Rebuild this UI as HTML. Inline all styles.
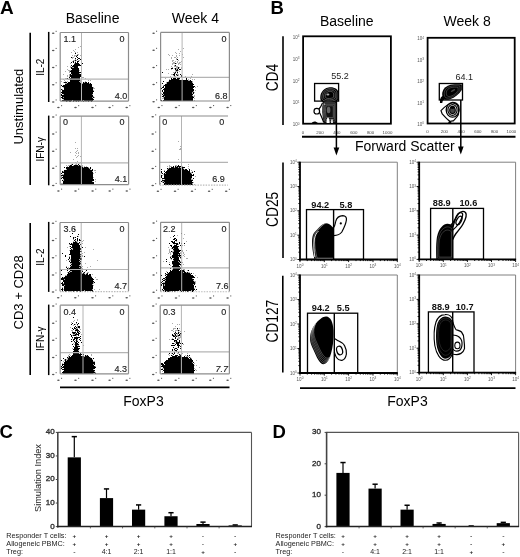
<!DOCTYPE html>
<html><head><meta charset="utf-8"><style>
html,body{margin:0;padding:0;background:#fff;width:520px;height:557px;overflow:hidden}
svg{display:block;will-change:transform}
text{font-family:"Liberation Sans",sans-serif}
</style></head><body>
<svg width="520" height="557" viewBox="0 0 520 557">
<rect width="520" height="557" fill="#fff"/>
<g font-family="Liberation Sans, sans-serif">
<text x="0" y="13.8" font-size="19" text-anchor="start" fill="#000" font-weight="bold" >A</text>
<text x="92.6" y="22.5" font-size="14" text-anchor="middle" fill="#000" >Baseline</text>
<text x="195.4" y="23.2" font-size="14" text-anchor="middle" fill="#000" >Week 4</text>
<line x1="30.2" y1="32.7" x2="30.2" y2="185" stroke="#000" stroke-width="1.6"/>
<line x1="30.2" y1="223" x2="30.2" y2="374.9" stroke="#000" stroke-width="1.6"/>
<text transform="translate(23.1,106.6) rotate(-90)" font-size="13" text-anchor="middle" fill="#000">Unstimulated</text>
<text transform="translate(23.3,292.4) rotate(-90)" font-size="13" text-anchor="middle" fill="#000">CD3 + CD28</text>
<line x1="48.7" y1="31.9" x2="48.7" y2="102.0" stroke="#000" stroke-width="1.5"/>
<text transform="translate(43.8,67.2) rotate(-90)" font-size="10" text-anchor="middle" fill="#000">IL-2</text>
<line x1="48.7" y1="115.60000000000001" x2="48.7" y2="185.3" stroke="#000" stroke-width="1.5"/>
<text transform="translate(43.8,149.3) rotate(-90)" font-size="10" text-anchor="middle" fill="#000">IFN-&#947;</text>
<line x1="48.7" y1="221.9" x2="48.7" y2="291.9" stroke="#000" stroke-width="1.5"/>
<text transform="translate(43.8,257.15) rotate(-90)" font-size="10" text-anchor="middle" fill="#000">IL-2</text>
<line x1="48.7" y1="304.59999999999997" x2="48.7" y2="375.09999999999997" stroke="#000" stroke-width="1.5"/>
<text transform="translate(43.8,338.7) rotate(-90)" font-size="10" text-anchor="middle" fill="#000">IFN-&#947;</text>
<path d="M80 46h1v1h-1zM78 47h1v1h-1zM81 47h1v1h-1zM75 49h1v1h-1zM73 50h1v1h-1zM74 51h1v1h-1zM71 52h1v1h-1zM75 52h1v1h-1zM77 52h1v1h-1zM77 54h2v1h-2zM81 54h1v1h-1zM72 55h1v1h-1zM74 55h3v1h-3zM80 55h1v1h-1zM74 56h1v1h-1zM72 57h2v1h-2zM72 58h1v1h-1zM75 59h1v1h-1zM73 60h2v1h-2zM76 60h1v1h-1zM78 60h2v1h-2zM72 61h1v1h-1zM75 61h1v1h-1zM70 63h1v1h-1zM74 63h1v1h-1zM67 66h1v1h-1zM70 66h1v1h-1zM70 67h1v1h-1zM72 67h2v1h-2zM67 69h1v1h-1zM81 69h1v1h-1zM68 70h3v1h-3zM79 70h1v1h-1zM65 71h1v1h-1zM69 71h1v1h-1zM69 72h1v1h-1zM79 73h1v1h-1zM63 74h1v1h-1zM69 74h1v1h-1zM71 74h1v1h-1zM81 74h1v1h-1zM67 75h1v1h-1zM69 75h1v1h-1zM81 75h1v1h-1zM67 76h1v1h-1zM69 76h1v1h-1zM82 77h2v1h-2zM65 78h2v1h-2zM69 78h1v1h-1zM85 78h1v1h-1zM63 79h1v1h-1zM68 79h2v1h-2zM64 80h1v1h-1zM80 80h1v1h-1zM88 80h1v1h-1zM90 80h1v1h-1zM61 81h1v1h-1zM65 81h1v1h-1zM67 81h1v1h-1zM79 81h2v1h-2zM85 81h1v1h-1zM63 82h1v1h-1zM80 82h2v1h-2zM84 82h1v1h-1zM65 83h2v1h-2zM81 83h2v1h-2zM89 83h1v1h-1zM63 87h1v1h-1zM93 87h1v1h-1zM93 88h2v1h-2zM62 89h1v1h-1zM93 90h1v1h-1zM63 94h1v1h-1zM92 94h1v1h-1zM93 96h1v1h-1zM63 97h1v1h-1zM92 97h1v1h-1zM94 97h1v1h-1zM63 99h1v1h-1zM72 100h1v1h-1zM83 100h1v1h-1zM67 101h1v1h-1zM75 101h1v1h-1zM81 101h1v1h-1zM85 101h2v1h-2z" fill="#acacac"/>
<path d="M75 53h1v1h-1zM77 55h1v1h-1zM76 56h1v1h-1zM71 57h1v1h-1zM77 57h1v1h-1zM75 58h1v1h-1zM78 58h2v1h-2zM77 59h1v1h-1zM80 59h1v1h-1zM75 60h1v1h-1zM73 61h1v1h-1zM77 61h2v1h-2zM71 62h1v1h-1zM73 62h1v1h-1zM75 62h1v1h-1zM77 62h1v1h-1zM75 63h4v1h-4zM82 63h1v1h-1zM74 64h6v1h-6zM71 65h1v1h-1zM73 65h8v1h-8zM72 66h6v1h-6zM71 67h1v1h-1zM74 67h4v1h-4zM71 68h8v1h-8zM72 69h7v1h-7zM71 70h8v1h-8zM70 71h9v1h-9zM71 72h10v1h-10zM71 73h8v1h-8zM70 74h1v1h-1zM72 74h9v1h-9zM70 75h11v1h-11zM70 76h11v1h-11zM69 77h1v1h-1zM71 77h9v1h-9zM67 78h1v1h-1zM70 78h10v1h-10zM81 78h1v1h-1zM70 79h10v1h-10zM70 80h10v1h-10zM70 81h9v1h-9zM64 82h3v1h-3zM68 82h12v1h-12zM83 82h1v1h-1zM85 82h2v1h-2zM88 82h1v1h-1zM67 83h14v1h-14zM83 83h6v1h-6zM90 83h1v1h-1zM65 84h27v1h-27zM61 85h1v1h-1zM63 85h29v1h-29zM62 86h30v1h-30zM64 87h29v1h-29zM64 88h29v1h-29zM61 89h1v1h-1zM64 89h29v1h-29zM62 90h31v1h-31zM62 91h32v1h-32zM61 92h32v1h-32zM62 93h31v1h-31zM61 94h1v1h-1zM64 94h28v1h-28zM61 95h32v1h-32zM62 96h31v1h-31zM61 97h2v1h-2zM64 97h28v1h-28zM93 97h1v1h-1zM62 98h31v1h-31zM64 99h30v1h-30zM62 100h10v1h-10zM73 100h10v1h-10zM84 100h9v1h-9zM66 101h1v1h-1zM69 101h2v1h-2zM73 101h1v1h-1zM76 101h1v1h-1zM78 101h1v1h-1zM83 101h1v1h-1zM88 101h1v1h-1zM91 101h1v1h-1z" fill="#000"/>
<line x1="81.5" y1="32.5" x2="81.5" y2="101.1" stroke="#b4b4b4" stroke-width="1"/>
<line x1="60.2" y1="79.2" x2="128.5" y2="79.2" stroke="#b4b4b4" stroke-width="1.2"/>
<line x1="60.2" y1="32.5" x2="128.5" y2="32.5" stroke="#8c8c8c" stroke-width="1.2"/>
<line x1="128.5" y1="32.5" x2="128.5" y2="101.1" stroke="#8c8c8c" stroke-width="1.2"/>
<line x1="60.2" y1="101.1" x2="128.5" y2="101.1" stroke="#8c8c8c" stroke-width="1.2"/>
<line x1="60.2" y1="32.5" x2="60.2" y2="101.1" stroke="#8c8c8c" stroke-width="1.2"/>
<ellipse cx="53.2" cy="33.3" rx="1.3" ry="0.75" fill="#555"/>
<rect x="55.6" y="30.8" width="1.1" height="1.1" fill="#666"/>
<ellipse cx="53.2" cy="50.4" rx="1.3" ry="0.75" fill="#555"/>
<rect x="55.6" y="47.9" width="1.1" height="1.1" fill="#666"/>
<ellipse cx="53.2" cy="67.6" rx="1.3" ry="0.75" fill="#555"/>
<rect x="55.6" y="65.1" width="1.1" height="1.1" fill="#666"/>
<ellipse cx="53.2" cy="84.7" rx="1.3" ry="0.75" fill="#555"/>
<rect x="55.6" y="82.2" width="1.1" height="1.1" fill="#666"/>
<ellipse cx="53.2" cy="101.9" rx="1.3" ry="0.75" fill="#555"/>
<rect x="55.6" y="99.4" width="1.1" height="1.1" fill="#666"/>
<ellipse cx="58.4" cy="107.6" rx="1.3" ry="0.75" fill="#555"/>
<rect x="61.0" y="105.1" width="1.1" height="1.1" fill="#666"/>
<ellipse cx="75.5" cy="107.6" rx="1.3" ry="0.75" fill="#555"/>
<rect x="78.1" y="105.1" width="1.1" height="1.1" fill="#666"/>
<ellipse cx="92.5" cy="107.6" rx="1.3" ry="0.75" fill="#555"/>
<rect x="95.1" y="105.1" width="1.1" height="1.1" fill="#666"/>
<ellipse cx="109.6" cy="107.6" rx="1.3" ry="0.75" fill="#555"/>
<rect x="112.2" y="105.1" width="1.1" height="1.1" fill="#666"/>
<ellipse cx="126.7" cy="107.6" rx="1.3" ry="0.75" fill="#555"/>
<rect x="129.3" y="105.1" width="1.1" height="1.1" fill="#666"/>
<text x="63.5" y="41.8" font-size="9" text-anchor="start" fill="#222" stroke="#222" stroke-width="0.15">1.1</text>
<text x="124.5" y="41.8" font-size="9" text-anchor="end" fill="#222" stroke="#222" stroke-width="0.15">0</text>
<text x="127.3" y="99.4" font-size="9" text-anchor="end" fill="#222" stroke="#222" stroke-width="0.15">4.0</text>
<path d="M183 48h1v1h-1zM178 49h1v1h-1zM180 51h1v1h-1zM175 52h1v1h-1zM176 53h1v1h-1zM179 53h1v1h-1zM168 54h1v1h-1zM182 54h1v1h-1zM169 55h1v1h-1zM172 55h1v1h-1zM176 55h1v1h-1zM179 55h1v1h-1zM176 56h1v1h-1zM171 57h1v1h-1zM174 57h2v1h-2zM177 57h1v1h-1zM183 57h1v1h-1zM171 58h1v1h-1zM176 58h1v1h-1zM176 59h1v1h-1zM172 60h2v1h-2zM178 60h1v1h-1zM172 61h1v1h-1zM175 61h1v1h-1zM177 61h1v1h-1zM181 61h1v1h-1zM173 62h2v1h-2zM177 62h1v1h-1zM179 62h2v1h-2zM172 63h3v1h-3zM176 63h1v1h-1zM178 63h2v1h-2zM172 64h1v1h-1zM178 64h1v1h-1zM180 64h1v1h-1zM174 65h1v1h-1zM171 66h1v1h-1zM174 66h4v1h-4zM172 67h1v1h-1zM176 67h2v1h-2zM179 67h1v1h-1zM181 67h1v1h-1zM174 68h1v1h-1zM176 68h2v1h-2zM181 68h1v1h-1zM166 69h1v1h-1zM168 69h1v1h-1zM171 69h1v1h-1zM176 69h1v1h-1zM175 70h1v1h-1zM178 70h1v1h-1zM175 71h3v1h-3zM179 71h1v1h-1zM173 72h2v1h-2zM168 73h1v1h-1zM175 73h1v1h-1zM177 73h1v1h-1zM171 74h2v1h-2zM177 74h2v1h-2zM192 74h1v1h-1zM173 75h1v1h-1zM176 75h1v1h-1zM178 75h1v1h-1zM170 76h1v1h-1zM174 76h2v1h-2zM185 76h1v1h-1zM191 76h1v1h-1zM165 78h1v1h-1zM190 78h1v1h-1zM169 79h1v1h-1zM179 79h1v1h-1zM182 79h1v1h-1zM188 79h1v1h-1zM192 79h1v1h-1zM194 79h1v1h-1zM188 80h2v1h-2zM168 81h1v1h-1zM192 81h1v1h-1zM166 82h1v1h-1zM192 82h1v1h-1zM166 83h1v1h-1zM163 85h1v1h-1zM197 86h1v1h-1zM195 87h1v1h-1zM195 90h1v1h-1zM193 91h1v1h-1zM192 92h1v1h-1zM194 92h1v1h-1zM161 93h1v1h-1zM192 93h1v1h-1zM163 94h1v1h-1zM192 95h1v1h-1zM194 95h1v1h-1zM164 96h1v1h-1zM193 96h2v1h-2zM163 97h1v1h-1zM162 98h2v1h-2zM194 98h1v1h-1zM194 100h1v1h-1z" fill="#acacac"/>
<path d="M177 59h1v1h-1zM175 63h1v1h-1zM175 65h1v1h-1zM178 67h1v1h-1zM171 68h2v1h-2zM175 68h1v1h-1zM178 68h1v1h-1zM175 69h1v1h-1zM177 69h1v1h-1zM179 69h2v1h-2zM176 70h2v1h-2zM162 72h1v1h-1zM175 72h1v1h-1zM177 72h1v1h-1zM174 73h1v1h-1zM173 74h2v1h-2zM176 74h1v1h-1zM180 74h1v1h-1zM174 75h1v1h-1zM177 75h1v1h-1zM181 75h1v1h-1zM181 76h1v1h-1zM173 77h2v1h-2zM176 77h2v1h-2zM171 78h1v1h-1zM173 78h3v1h-3zM177 78h3v1h-3zM186 78h1v1h-1zM171 79h8v1h-8zM186 79h1v1h-1zM169 80h19v1h-19zM190 80h1v1h-1zM163 81h1v1h-1zM169 81h23v1h-23zM167 82h25v1h-25zM162 83h1v1h-1zM167 83h26v1h-26zM165 84h29v1h-29zM164 85h29v1h-29zM163 86h1v1h-1zM165 86h30v1h-30zM162 87h2v1h-2zM165 87h29v1h-29zM161 88h1v1h-1zM164 88h29v1h-29zM163 89h31v1h-31zM162 90h1v1h-1zM164 90h30v1h-30zM162 91h1v1h-1zM164 91h29v1h-29zM163 92h29v1h-29zM193 92h1v1h-1zM163 93h29v1h-29zM193 93h1v1h-1zM162 94h1v1h-1zM164 94h29v1h-29zM163 95h29v1h-29zM162 96h2v1h-2zM165 96h28v1h-28zM164 97h30v1h-30zM164 98h29v1h-29zM164 99h29v1h-29zM161 100h1v1h-1zM163 100h30v1h-30z" fill="#000"/>
<line x1="182.1" y1="32.4" x2="182.1" y2="101.0" stroke="#b4b4b4" stroke-width="1"/>
<line x1="160.6" y1="77.3" x2="229.4" y2="77.3" stroke="#b4b4b4" stroke-width="1.2"/>
<line x1="160.6" y1="32.4" x2="229.4" y2="32.4" stroke="#8c8c8c" stroke-width="1.2"/>
<line x1="229.4" y1="32.4" x2="229.4" y2="101.0" stroke="#8c8c8c" stroke-width="1.2"/>
<line x1="160.6" y1="101.0" x2="229.4" y2="101.0" stroke="#8c8c8c" stroke-width="1.2"/>
<line x1="160.6" y1="32.4" x2="160.6" y2="101.0" stroke="#8c8c8c" stroke-width="1.2"/>
<ellipse cx="153.6" cy="33.2" rx="1.3" ry="0.75" fill="#555"/>
<rect x="156.0" y="30.7" width="1.1" height="1.1" fill="#666"/>
<ellipse cx="153.6" cy="50.3" rx="1.3" ry="0.75" fill="#555"/>
<rect x="156.0" y="47.8" width="1.1" height="1.1" fill="#666"/>
<ellipse cx="153.6" cy="67.5" rx="1.3" ry="0.75" fill="#555"/>
<rect x="156.0" y="65.0" width="1.1" height="1.1" fill="#666"/>
<ellipse cx="153.6" cy="84.6" rx="1.3" ry="0.75" fill="#555"/>
<rect x="156.0" y="82.1" width="1.1" height="1.1" fill="#666"/>
<ellipse cx="153.6" cy="101.8" rx="1.3" ry="0.75" fill="#555"/>
<rect x="156.0" y="99.3" width="1.1" height="1.1" fill="#666"/>
<ellipse cx="158.8" cy="107.5" rx="1.3" ry="0.75" fill="#555"/>
<rect x="161.4" y="105.0" width="1.1" height="1.1" fill="#666"/>
<ellipse cx="176.0" cy="107.5" rx="1.3" ry="0.75" fill="#555"/>
<rect x="178.6" y="105.0" width="1.1" height="1.1" fill="#666"/>
<ellipse cx="193.2" cy="107.5" rx="1.3" ry="0.75" fill="#555"/>
<rect x="195.8" y="105.0" width="1.1" height="1.1" fill="#666"/>
<ellipse cx="210.4" cy="107.5" rx="1.3" ry="0.75" fill="#555"/>
<rect x="213.0" y="105.0" width="1.1" height="1.1" fill="#666"/>
<ellipse cx="227.6" cy="107.5" rx="1.3" ry="0.75" fill="#555"/>
<rect x="230.2" y="105.0" width="1.1" height="1.1" fill="#666"/>
<text x="226.4" y="41.8" font-size="9" text-anchor="end" fill="#222" stroke="#222" stroke-width="0.15">0</text>
<text x="227.6" y="98.8" font-size="9" text-anchor="end" fill="#222" stroke="#222" stroke-width="0.15">6.8</text>
<path d="M75 142h1v1h-1zM75 148h1v1h-1zM77 148h1v1h-1zM77 150h1v1h-1zM76 151h1v1h-1zM70 152h1v1h-1zM75 152h1v1h-1zM78 152h1v1h-1zM76 153h1v1h-1zM78 153h1v1h-1zM75 155h1v1h-1zM78 155h1v1h-1zM77 156h1v1h-1zM80 156h1v1h-1zM76 157h1v1h-1zM73 159h1v1h-1zM77 161h1v1h-1zM75 162h1v1h-1zM80 162h1v1h-1zM76 163h1v1h-1zM79 163h1v1h-1zM71 164h1v1h-1zM75 164h2v1h-2zM66 165h1v1h-1zM68 165h2v1h-2zM73 165h1v1h-1zM78 165h1v1h-1zM80 165h1v1h-1zM82 165h1v1h-1zM67 166h1v1h-1zM82 166h1v1h-1zM84 166h1v1h-1zM86 166h1v1h-1zM83 167h1v1h-1zM88 167h1v1h-1zM89 168h1v1h-1zM66 169h1v1h-1zM90 169h1v1h-1zM94 170h2v1h-2zM63 171h1v1h-1zM92 171h1v1h-1zM95 172h1v1h-1zM93 173h1v1h-1zM62 174h2v1h-2zM61 176h1v1h-1zM61 177h1v1h-1zM93 177h1v1h-1zM63 179h1v1h-1zM95 179h1v1h-1zM63 180h1v1h-1zM92 181h1v1h-1zM95 181h1v1h-1zM61 183h2v1h-2zM63 184h1v1h-1zM92 184h1v1h-1z" fill="#acacac"/>
<path d="M81 163h1v1h-1zM72 164h1v1h-1zM78 164h1v1h-1zM70 165h2v1h-2zM74 165h4v1h-4zM79 165h1v1h-1zM69 166h13v1h-13zM64 167h1v1h-1zM66 167h17v1h-17zM84 167h4v1h-4zM90 167h1v1h-1zM66 168h23v1h-23zM90 168h1v1h-1zM67 169h23v1h-23zM92 169h1v1h-1zM64 170h29v1h-29zM62 171h1v1h-1zM64 171h28v1h-28zM62 172h31v1h-31zM61 173h1v1h-1zM64 173h29v1h-29zM64 174h29v1h-29zM61 175h32v1h-32zM63 176h30v1h-30zM62 177h31v1h-31zM61 178h1v1h-1zM63 178h30v1h-30zM64 179h30v1h-30zM62 180h1v1h-1zM64 180h30v1h-30zM63 181h29v1h-29zM63 182h31v1h-31zM63 183h31v1h-31zM64 184h28v1h-28zM93 184h2v1h-2z" fill="#000"/>
<line x1="81.4" y1="116.2" x2="81.4" y2="184.6" stroke="#b4b4b4" stroke-width="1"/>
<line x1="60.2" y1="162.8" x2="128.6" y2="162.8" stroke="#b4b4b4" stroke-width="1.2"/>
<line x1="60.2" y1="116.2" x2="128.6" y2="116.2" stroke="#8c8c8c" stroke-width="1.2"/>
<line x1="128.6" y1="116.2" x2="128.6" y2="184.6" stroke="#8c8c8c" stroke-width="1.2"/>
<line x1="60.2" y1="184.6" x2="128.6" y2="184.6" stroke="#8c8c8c" stroke-width="1.2"/>
<line x1="60.2" y1="116.2" x2="60.2" y2="184.6" stroke="#8c8c8c" stroke-width="1.2"/>
<ellipse cx="53.2" cy="117.0" rx="1.3" ry="0.75" fill="#555"/>
<rect x="55.6" y="114.5" width="1.1" height="1.1" fill="#666"/>
<ellipse cx="53.2" cy="134.1" rx="1.3" ry="0.75" fill="#555"/>
<rect x="55.6" y="131.6" width="1.1" height="1.1" fill="#666"/>
<ellipse cx="53.2" cy="151.2" rx="1.3" ry="0.75" fill="#555"/>
<rect x="55.6" y="148.7" width="1.1" height="1.1" fill="#666"/>
<ellipse cx="53.2" cy="168.3" rx="1.3" ry="0.75" fill="#555"/>
<rect x="55.6" y="165.8" width="1.1" height="1.1" fill="#666"/>
<ellipse cx="53.2" cy="185.4" rx="1.3" ry="0.75" fill="#555"/>
<rect x="55.6" y="182.9" width="1.1" height="1.1" fill="#666"/>
<ellipse cx="58.4" cy="191.1" rx="1.3" ry="0.75" fill="#555"/>
<rect x="61.0" y="188.6" width="1.1" height="1.1" fill="#666"/>
<ellipse cx="75.5" cy="191.1" rx="1.3" ry="0.75" fill="#555"/>
<rect x="78.1" y="188.6" width="1.1" height="1.1" fill="#666"/>
<ellipse cx="92.6" cy="191.1" rx="1.3" ry="0.75" fill="#555"/>
<rect x="95.2" y="188.6" width="1.1" height="1.1" fill="#666"/>
<ellipse cx="109.7" cy="191.1" rx="1.3" ry="0.75" fill="#555"/>
<rect x="112.3" y="188.6" width="1.1" height="1.1" fill="#666"/>
<ellipse cx="126.8" cy="191.1" rx="1.3" ry="0.75" fill="#555"/>
<rect x="129.4" y="188.6" width="1.1" height="1.1" fill="#666"/>
<text x="63" y="125.2" font-size="9" text-anchor="start" fill="#222" stroke="#222" stroke-width="0.15">0</text>
<text x="124.5" y="125.2" font-size="9" text-anchor="end" fill="#222" stroke="#222" stroke-width="0.15">0</text>
<text x="127.2" y="181.9" font-size="9" text-anchor="end" fill="#222" stroke="#222" stroke-width="0.15">4.1</text>
<path d="M178 141h1v1h-1zM180 146h1v1h-1zM180 148h2v1h-2zM179 149h3v1h-3zM178 159h1v1h-1zM188 164h1v1h-1zM169 165h1v1h-1zM175 165h2v1h-2zM167 166h1v1h-1zM169 166h3v1h-3zM176 166h1v1h-1zM181 166h2v1h-2zM188 166h1v1h-1zM169 167h1v1h-1zM174 167h1v1h-1zM178 167h1v1h-1zM180 167h2v1h-2zM168 168h1v1h-1zM183 168h1v1h-1zM188 168h1v1h-1zM167 169h1v1h-1zM184 169h1v1h-1zM164 170h1v1h-1zM191 170h1v1h-1zM192 171h1v1h-1zM190 172h2v1h-2zM161 173h1v1h-1zM165 173h1v1h-1zM191 173h1v1h-1zM163 174h1v1h-1zM162 175h1v1h-1zM195 176h1v1h-1zM191 178h1v1h-1zM162 179h1v1h-1zM164 179h1v1h-1zM191 179h2v1h-2zM162 181h2v1h-2zM162 182h1v1h-1zM164 182h1v1h-1zM193 182h1v1h-1zM160 183h1v1h-1zM192 183h1v1h-1zM194 184h1v1h-1z" fill="#acacac"/>
<path d="M178 165h1v1h-1zM173 166h1v1h-1zM175 166h1v1h-1zM177 166h4v1h-4zM171 167h3v1h-3zM175 167h3v1h-3zM179 167h1v1h-1zM182 167h3v1h-3zM167 168h1v1h-1zM169 168h14v1h-14zM161 169h1v1h-1zM168 169h16v1h-16zM185 169h2v1h-2zM189 169h1v1h-1zM167 170h21v1h-21zM189 170h1v1h-1zM161 171h1v1h-1zM164 171h1v1h-1zM166 171h24v1h-24zM194 171h1v1h-1zM161 172h1v1h-1zM165 172h25v1h-25zM192 172h1v1h-1zM162 173h1v1h-1zM164 173h1v1h-1zM166 173h25v1h-25zM164 174h28v1h-28zM193 174h1v1h-1zM161 175h1v1h-1zM164 175h30v1h-30zM161 176h1v1h-1zM164 176h28v1h-28zM161 177h1v1h-1zM164 177h28v1h-28zM162 178h29v1h-29zM193 178h1v1h-1zM165 179h26v1h-26zM162 180h31v1h-31zM161 181h1v1h-1zM164 181h28v1h-28zM163 182h1v1h-1zM165 182h28v1h-28zM164 183h28v1h-28zM164 184h29v1h-29z" fill="#000"/>
<line x1="181.5" y1="116" x2="181.5" y2="184.8" stroke="#b4b4b4" stroke-width="1"/>
<line x1="159.7" y1="162.4" x2="228" y2="162.4" stroke="#b4b4b4" stroke-width="1.2"/>
<line x1="159.7" y1="116" x2="228" y2="116" stroke="#8c8c8c" stroke-width="1.2"/>
<line x1="159.7" y1="185.10000000000002" x2="228" y2="185.10000000000002" stroke="#bbb" stroke-width="1.1" stroke-dasharray="1.5 1.2"/>
<line x1="159.7" y1="116" x2="159.7" y2="184.8" stroke="#8c8c8c" stroke-width="1.2"/>
<ellipse cx="152.7" cy="116.8" rx="1.3" ry="0.75" fill="#555"/>
<rect x="155.1" y="114.3" width="1.1" height="1.1" fill="#666"/>
<ellipse cx="152.7" cy="134.0" rx="1.3" ry="0.75" fill="#555"/>
<rect x="155.1" y="131.5" width="1.1" height="1.1" fill="#666"/>
<ellipse cx="152.7" cy="151.2" rx="1.3" ry="0.75" fill="#555"/>
<rect x="155.1" y="148.7" width="1.1" height="1.1" fill="#666"/>
<ellipse cx="152.7" cy="168.4" rx="1.3" ry="0.75" fill="#555"/>
<rect x="155.1" y="165.9" width="1.1" height="1.1" fill="#666"/>
<ellipse cx="152.7" cy="185.6" rx="1.3" ry="0.75" fill="#555"/>
<rect x="155.1" y="183.1" width="1.1" height="1.1" fill="#666"/>
<ellipse cx="157.9" cy="191.3" rx="1.3" ry="0.75" fill="#555"/>
<rect x="160.5" y="188.8" width="1.1" height="1.1" fill="#666"/>
<ellipse cx="175.0" cy="191.3" rx="1.3" ry="0.75" fill="#555"/>
<rect x="177.6" y="188.8" width="1.1" height="1.1" fill="#666"/>
<ellipse cx="192.0" cy="191.3" rx="1.3" ry="0.75" fill="#555"/>
<rect x="194.7" y="188.8" width="1.1" height="1.1" fill="#666"/>
<ellipse cx="209.1" cy="191.3" rx="1.3" ry="0.75" fill="#555"/>
<rect x="211.7" y="188.8" width="1.1" height="1.1" fill="#666"/>
<ellipse cx="226.2" cy="191.3" rx="1.3" ry="0.75" fill="#555"/>
<rect x="228.8" y="188.8" width="1.1" height="1.1" fill="#666"/>
<text x="162.3" y="125" font-size="9" text-anchor="start" fill="#222" stroke="#222" stroke-width="0.15">0</text>
<text x="224.3" y="125" font-size="9" text-anchor="end" fill="#222" stroke="#222" stroke-width="0.15">0</text>
<text x="224.8" y="182.2" font-size="9" text-anchor="end" fill="#222" stroke="#222" stroke-width="0.15">6.9</text>
<path d="M78 236h1v1h-1zM74 237h1v1h-1zM73 239h1v1h-1zM75 240h1v1h-1zM83 240h1v1h-1zM73 241h1v1h-1zM76 241h2v1h-2zM82 241h1v1h-1zM77 242h1v1h-1zM72 243h1v1h-1zM79 243h1v1h-1zM82 243h1v1h-1zM69 244h1v1h-1zM69 246h1v1h-1zM81 246h1v1h-1zM67 247h1v1h-1zM85 247h1v1h-1zM72 248h1v1h-1zM72 249h1v1h-1zM93 249h1v1h-1zM69 250h1v1h-1zM84 252h1v1h-1zM82 253h1v1h-1zM81 254h1v1h-1zM80 255h1v1h-1zM82 255h1v1h-1zM69 256h1v1h-1zM82 256h1v1h-1zM80 257h1v1h-1zM70 259h1v1h-1zM79 259h1v1h-1zM66 260h1v1h-1zM69 260h2v1h-2zM97 260h1v1h-1zM79 261h1v1h-1zM80 262h1v1h-1zM70 263h2v1h-2zM85 263h1v1h-1zM80 264h2v1h-2zM71 265h1v1h-1zM79 265h1v1h-1zM81 265h1v1h-1zM66 266h1v1h-1zM70 266h1v1h-1zM82 266h1v1h-1zM90 266h1v1h-1zM68 267h1v1h-1zM79 267h1v1h-1zM87 267h1v1h-1zM68 268h1v1h-1zM81 268h2v1h-2zM80 269h1v1h-1zM81 270h2v1h-2zM70 271h2v1h-2zM85 271h1v1h-1zM67 272h1v1h-1zM69 272h1v1h-1zM83 272h1v1h-1zM87 272h2v1h-2zM82 273h1v1h-1zM84 273h1v1h-1zM86 273h1v1h-1zM85 274h1v1h-1zM92 274h1v1h-1zM65 275h2v1h-2zM91 276h1v1h-1zM63 277h1v1h-1zM95 277h1v1h-1zM64 279h1v1h-1zM96 279h2v1h-2zM93 282h1v1h-1zM63 283h1v1h-1zM93 283h1v1h-1zM92 284h1v1h-1zM64 285h1v1h-1zM93 285h1v1h-1zM62 287h1v1h-1zM63 289h1v1h-1zM92 289h1v1h-1zM94 289h1v1h-1zM99 289h1v1h-1zM84 290h1v1h-1zM62 291h2v1h-2zM69 291h2v1h-2zM87 291h1v1h-1z" fill="#acacac"/>
<path d="M74 229h1v1h-1zM72 233h1v1h-1zM78 234h1v1h-1zM70 236h1v1h-1zM77 236h1v1h-1zM73 237h1v1h-1zM75 237h1v1h-1zM73 238h1v1h-1zM77 238h1v1h-1zM75 239h1v1h-1zM77 239h1v1h-1zM79 239h1v1h-1zM74 240h1v1h-1zM77 240h1v1h-1zM79 240h2v1h-2zM75 241h1v1h-1zM73 242h4v1h-4zM79 242h1v1h-1zM69 243h1v1h-1zM71 243h1v1h-1zM73 243h6v1h-6zM70 244h9v1h-9zM80 244h1v1h-1zM72 245h8v1h-8zM70 246h1v1h-1zM72 246h8v1h-8zM71 247h9v1h-9zM82 247h1v1h-1zM70 248h1v1h-1zM73 248h8v1h-8zM71 249h1v1h-1zM73 249h8v1h-8zM70 250h10v1h-10zM70 251h12v1h-12zM70 252h10v1h-10zM62 253h1v1h-1zM70 253h10v1h-10zM69 254h12v1h-12zM65 255h1v1h-1zM71 255h9v1h-9zM65 256h1v1h-1zM71 256h10v1h-10zM84 256h1v1h-1zM69 257h1v1h-1zM71 257h9v1h-9zM69 258h1v1h-1zM71 258h11v1h-11zM68 259h1v1h-1zM71 259h8v1h-8zM80 259h2v1h-2zM71 260h9v1h-9zM69 261h1v1h-1zM71 261h8v1h-8zM80 261h1v1h-1zM70 262h10v1h-10zM72 263h9v1h-9zM71 264h9v1h-9zM70 265h1v1h-1zM72 265h7v1h-7zM71 266h10v1h-10zM66 267h1v1h-1zM70 267h9v1h-9zM80 267h2v1h-2zM67 268h1v1h-1zM69 268h12v1h-12zM68 269h1v1h-1zM71 269h9v1h-9zM81 269h1v1h-1zM61 270h1v1h-1zM67 270h1v1h-1zM70 270h11v1h-11zM86 270h1v1h-1zM69 271h1v1h-1zM72 271h9v1h-9zM82 271h1v1h-1zM68 272h1v1h-1zM70 272h12v1h-12zM84 272h1v1h-1zM68 273h14v1h-14zM83 273h1v1h-1zM87 273h1v1h-1zM61 274h1v1h-1zM67 274h18v1h-18zM86 274h2v1h-2zM89 274h2v1h-2zM67 275h24v1h-24zM65 276h26v1h-26zM62 277h1v1h-1zM64 277h28v1h-28zM61 278h32v1h-32zM61 279h3v1h-3zM65 279h29v1h-29zM63 280h30v1h-30zM63 281h31v1h-31zM62 282h1v1h-1zM64 282h29v1h-29zM94 282h1v1h-1zM61 283h2v1h-2zM64 283h29v1h-29zM62 284h30v1h-30zM62 285h2v1h-2zM65 285h28v1h-28zM64 286h29v1h-29zM64 287h29v1h-29zM62 288h1v1h-1zM64 288h29v1h-29zM61 289h2v1h-2zM64 289h28v1h-28zM62 290h1v1h-1zM64 290h20v1h-20zM85 290h8v1h-8zM65 291h2v1h-2zM68 291h1v1h-1zM71 291h1v1h-1zM73 291h2v1h-2zM76 291h2v1h-2zM79 291h2v1h-2zM85 291h1v1h-1zM90 291h1v1h-1zM92 291h2v1h-2z" fill="#000"/>
<line x1="81.2" y1="222.5" x2="81.2" y2="291.3" stroke="#b4b4b4" stroke-width="1"/>
<line x1="60.0" y1="269.5" x2="128.5" y2="269.5" stroke="#b4b4b4" stroke-width="1.2"/>
<line x1="60.0" y1="222.5" x2="128.5" y2="222.5" stroke="#8c8c8c" stroke-width="1.2"/>
<line x1="128.5" y1="222.5" x2="128.5" y2="291.3" stroke="#8c8c8c" stroke-width="1.2"/>
<line x1="60.0" y1="291.6" x2="128.5" y2="291.6" stroke="#bbb" stroke-width="1.1" stroke-dasharray="1.5 1.2"/>
<line x1="60.0" y1="222.5" x2="60.0" y2="291.3" stroke="#8c8c8c" stroke-width="1.2"/>
<ellipse cx="53.0" cy="223.3" rx="1.3" ry="0.75" fill="#555"/>
<rect x="55.4" y="220.8" width="1.1" height="1.1" fill="#666"/>
<ellipse cx="53.0" cy="240.5" rx="1.3" ry="0.75" fill="#555"/>
<rect x="55.4" y="238.0" width="1.1" height="1.1" fill="#666"/>
<ellipse cx="53.0" cy="257.7" rx="1.3" ry="0.75" fill="#555"/>
<rect x="55.4" y="255.2" width="1.1" height="1.1" fill="#666"/>
<ellipse cx="53.0" cy="274.9" rx="1.3" ry="0.75" fill="#555"/>
<rect x="55.4" y="272.4" width="1.1" height="1.1" fill="#666"/>
<ellipse cx="53.0" cy="292.1" rx="1.3" ry="0.75" fill="#555"/>
<rect x="55.4" y="289.6" width="1.1" height="1.1" fill="#666"/>
<ellipse cx="58.2" cy="297.8" rx="1.3" ry="0.75" fill="#555"/>
<rect x="60.8" y="295.3" width="1.1" height="1.1" fill="#666"/>
<ellipse cx="75.3" cy="297.8" rx="1.3" ry="0.75" fill="#555"/>
<rect x="77.9" y="295.3" width="1.1" height="1.1" fill="#666"/>
<ellipse cx="92.5" cy="297.8" rx="1.3" ry="0.75" fill="#555"/>
<rect x="95.0" y="295.3" width="1.1" height="1.1" fill="#666"/>
<ellipse cx="109.6" cy="297.8" rx="1.3" ry="0.75" fill="#555"/>
<rect x="112.2" y="295.3" width="1.1" height="1.1" fill="#666"/>
<ellipse cx="126.7" cy="297.8" rx="1.3" ry="0.75" fill="#555"/>
<rect x="129.3" y="295.3" width="1.1" height="1.1" fill="#666"/>
<text x="63.5" y="231.8" font-size="9" text-anchor="start" fill="#222" stroke="#222" stroke-width="0.15">3.6</text>
<text x="124.5" y="231.8" font-size="9" text-anchor="end" fill="#222" stroke="#222" stroke-width="0.15">0</text>
<text x="127.1" y="289.2" font-size="9" text-anchor="end" fill="#222" stroke="#222" stroke-width="0.15">4.7</text>
<path d="M172 228h1v1h-1zM184 234h1v1h-1zM177 235h1v1h-1zM170 237h1v1h-1zM183 238h1v1h-1zM176 241h1v1h-1zM186 241h1v1h-1zM174 244h1v1h-1zM178 244h1v1h-1zM182 245h1v1h-1zM184 245h1v1h-1zM181 246h1v1h-1zM168 247h1v1h-1zM181 247h1v1h-1zM171 248h1v1h-1zM173 248h1v1h-1zM178 248h1v1h-1zM169 249h1v1h-1zM169 250h1v1h-1zM173 250h1v1h-1zM182 250h1v1h-1zM186 250h1v1h-1zM169 251h1v1h-1zM172 251h2v1h-2zM182 251h1v1h-1zM169 252h2v1h-2zM172 252h1v1h-1zM180 252h1v1h-1zM183 252h1v1h-1zM168 253h1v1h-1zM170 253h1v1h-1zM180 253h1v1h-1zM183 253h1v1h-1zM170 254h1v1h-1zM178 254h1v1h-1zM184 254h1v1h-1zM183 255h1v1h-1zM170 256h2v1h-2zM178 256h1v1h-1zM180 256h1v1h-1zM184 256h1v1h-1zM170 258h1v1h-1zM173 258h1v1h-1zM180 258h1v1h-1zM186 258h2v1h-2zM171 259h1v1h-1zM173 260h1v1h-1zM163 261h1v1h-1zM178 261h1v1h-1zM180 261h1v1h-1zM169 262h1v1h-1zM179 262h1v1h-1zM181 262h2v1h-2zM172 264h1v1h-1zM183 264h1v1h-1zM170 265h1v1h-1zM180 265h2v1h-2zM181 266h1v1h-1zM172 267h1v1h-1zM172 269h1v1h-1zM181 269h1v1h-1zM183 269h2v1h-2zM184 270h1v1h-1zM187 270h1v1h-1zM166 271h1v1h-1zM183 272h1v1h-1zM186 272h1v1h-1zM188 272h2v1h-2zM167 273h1v1h-1zM190 273h1v1h-1zM193 273h1v1h-1zM165 274h1v1h-1zM195 275h1v1h-1zM197 277h1v1h-1zM165 278h1v1h-1zM192 278h1v1h-1zM164 279h1v1h-1zM165 280h1v1h-1zM193 280h1v1h-1zM194 281h2v1h-2zM163 282h2v1h-2zM195 282h1v1h-1zM195 283h1v1h-1zM164 284h1v1h-1zM193 284h1v1h-1zM164 285h1v1h-1zM195 287h1v1h-1zM194 288h1v1h-1zM162 290h1v1h-1zM164 290h1v1h-1zM179 290h1v1h-1zM191 290h1v1h-1zM195 290h1v1h-1zM163 291h1v1h-1zM170 291h1v1h-1zM175 291h1v1h-1z" fill="#acacac"/>
<path d="M181 233h1v1h-1zM174 235h1v1h-1zM173 236h1v1h-1zM174 238h2v1h-2zM173 239h2v1h-2zM176 239h1v1h-1zM175 240h2v1h-2zM171 241h2v1h-2zM174 241h1v1h-1zM172 242h3v1h-3zM179 242h1v1h-1zM169 243h1v1h-1zM173 243h5v1h-5zM179 243h1v1h-1zM181 243h1v1h-1zM184 243h1v1h-1zM176 244h2v1h-2zM170 245h2v1h-2zM174 245h3v1h-3zM180 245h1v1h-1zM171 246h1v1h-1zM173 246h6v1h-6zM172 247h6v1h-6zM172 248h1v1h-1zM174 248h4v1h-4zM173 249h6v1h-6zM174 250h7v1h-7zM171 251h1v1h-1zM174 251h6v1h-6zM173 252h6v1h-6zM173 253h7v1h-7zM173 254h5v1h-5zM179 254h1v1h-1zM172 255h9v1h-9zM172 256h6v1h-6zM179 256h1v1h-1zM170 257h1v1h-1zM172 257h7v1h-7zM180 257h1v1h-1zM171 258h1v1h-1zM174 258h5v1h-5zM166 259h1v1h-1zM173 259h6v1h-6zM174 260h6v1h-6zM166 261h1v1h-1zM172 261h6v1h-6zM179 261h1v1h-1zM172 262h7v1h-7zM180 262h1v1h-1zM172 263h8v1h-8zM169 264h1v1h-1zM173 264h8v1h-8zM173 265h6v1h-6zM172 266h8v1h-8zM173 267h8v1h-8zM170 268h1v1h-1zM173 268h8v1h-8zM173 269h7v1h-7zM170 270h1v1h-1zM172 270h7v1h-7zM180 270h4v1h-4zM188 270h1v1h-1zM170 271h15v1h-15zM167 272h1v1h-1zM169 272h14v1h-14zM184 272h2v1h-2zM187 272h1v1h-1zM165 273h1v1h-1zM168 273h22v1h-22zM191 273h1v1h-1zM166 274h25v1h-25zM161 275h1v1h-1zM165 275h1v1h-1zM167 275h26v1h-26zM166 276h28v1h-28zM165 277h30v1h-30zM163 278h2v1h-2zM166 278h26v1h-26zM162 279h1v1h-1zM165 279h29v1h-29zM163 280h2v1h-2zM166 280h27v1h-27zM162 281h1v1h-1zM165 281h29v1h-29zM161 282h1v1h-1zM165 282h30v1h-30zM162 283h33v1h-33zM161 284h1v1h-1zM163 284h1v1h-1zM165 284h28v1h-28zM194 284h1v1h-1zM161 285h1v1h-1zM163 285h1v1h-1zM165 285h29v1h-29zM163 286h31v1h-31zM195 286h1v1h-1zM163 287h31v1h-31zM163 288h31v1h-31zM162 289h1v1h-1zM164 289h31v1h-31zM196 289h1v1h-1zM163 290h1v1h-1zM165 290h14v1h-14zM180 290h11v1h-11zM192 290h2v1h-2zM165 291h1v1h-1zM167 291h3v1h-3zM172 291h1v1h-1zM174 291h1v1h-1zM181 291h1v1h-1zM183 291h1v1h-1zM185 291h1v1h-1zM187 291h2v1h-2zM192 291h1v1h-1z" fill="#000"/>
<line x1="181.7" y1="222.3" x2="181.7" y2="291.4" stroke="#b4b4b4" stroke-width="1"/>
<line x1="160.6" y1="267.9" x2="229.4" y2="267.9" stroke="#b4b4b4" stroke-width="1.2"/>
<line x1="160.6" y1="222.3" x2="229.4" y2="222.3" stroke="#8c8c8c" stroke-width="1.2"/>
<line x1="229.4" y1="222.3" x2="229.4" y2="291.4" stroke="#8c8c8c" stroke-width="1.2"/>
<line x1="160.6" y1="291.7" x2="229.4" y2="291.7" stroke="#bbb" stroke-width="1.1" stroke-dasharray="1.5 1.2"/>
<line x1="160.6" y1="222.3" x2="160.6" y2="291.4" stroke="#8c8c8c" stroke-width="1.2"/>
<ellipse cx="153.6" cy="223.1" rx="1.3" ry="0.75" fill="#555"/>
<rect x="156.0" y="220.6" width="1.1" height="1.1" fill="#666"/>
<ellipse cx="153.6" cy="240.4" rx="1.3" ry="0.75" fill="#555"/>
<rect x="156.0" y="237.9" width="1.1" height="1.1" fill="#666"/>
<ellipse cx="153.6" cy="257.7" rx="1.3" ry="0.75" fill="#555"/>
<rect x="156.0" y="255.2" width="1.1" height="1.1" fill="#666"/>
<ellipse cx="153.6" cy="274.9" rx="1.3" ry="0.75" fill="#555"/>
<rect x="156.0" y="272.4" width="1.1" height="1.1" fill="#666"/>
<ellipse cx="153.6" cy="292.2" rx="1.3" ry="0.75" fill="#555"/>
<rect x="156.0" y="289.7" width="1.1" height="1.1" fill="#666"/>
<ellipse cx="158.8" cy="297.9" rx="1.3" ry="0.75" fill="#555"/>
<rect x="161.4" y="295.4" width="1.1" height="1.1" fill="#666"/>
<ellipse cx="176.0" cy="297.9" rx="1.3" ry="0.75" fill="#555"/>
<rect x="178.6" y="295.4" width="1.1" height="1.1" fill="#666"/>
<ellipse cx="193.2" cy="297.9" rx="1.3" ry="0.75" fill="#555"/>
<rect x="195.8" y="295.4" width="1.1" height="1.1" fill="#666"/>
<ellipse cx="210.4" cy="297.9" rx="1.3" ry="0.75" fill="#555"/>
<rect x="213.0" y="295.4" width="1.1" height="1.1" fill="#666"/>
<ellipse cx="227.6" cy="297.9" rx="1.3" ry="0.75" fill="#555"/>
<rect x="230.2" y="295.4" width="1.1" height="1.1" fill="#666"/>
<text x="163" y="231.8" font-size="9" text-anchor="start" fill="#222" stroke="#222" stroke-width="0.15">2.2</text>
<text x="226.6" y="231.8" font-size="9" text-anchor="end" fill="#222" stroke="#222" stroke-width="0.15">0</text>
<text x="228.4" y="289.3" font-size="9" text-anchor="end" fill="#222" stroke="#222" stroke-width="0.15">7.6</text>
<path d="M77 319h1v1h-1zM74 320h1v1h-1zM77 320h1v1h-1zM73 321h1v1h-1zM71 322h1v1h-1zM76 323h1v1h-1zM75 324h1v1h-1zM73 325h1v1h-1zM77 325h1v1h-1zM77 326h1v1h-1zM70 327h1v1h-1zM77 327h1v1h-1zM76 328h2v1h-2zM79 328h1v1h-1zM75 329h1v1h-1zM80 329h1v1h-1zM71 330h2v1h-2zM72 331h1v1h-1zM75 331h1v1h-1zM78 331h1v1h-1zM80 332h1v1h-1zM72 333h1v1h-1zM75 333h1v1h-1zM73 334h2v1h-2zM81 334h1v1h-1zM72 335h1v1h-1zM76 335h1v1h-1zM76 336h1v1h-1zM72 338h1v1h-1zM77 339h1v1h-1zM75 340h1v1h-1zM77 340h1v1h-1zM72 341h1v1h-1zM74 342h1v1h-1zM73 343h1v1h-1zM74 344h1v1h-1zM77 345h2v1h-2zM83 345h1v1h-1zM72 348h1v1h-1zM78 350h1v1h-1zM80 352h1v1h-1zM92 352h1v1h-1zM69 354h1v1h-1zM91 354h1v1h-1zM68 355h1v1h-1zM70 355h1v1h-1zM83 355h1v1h-1zM86 355h1v1h-1zM91 355h1v1h-1zM68 356h1v1h-1zM84 356h1v1h-1zM68 357h1v1h-1zM90 357h1v1h-1zM67 358h1v1h-1zM64 359h1v1h-1zM66 359h2v1h-2zM92 359h1v1h-1zM64 360h1v1h-1zM66 360h1v1h-1zM63 361h1v1h-1zM93 361h2v1h-2zM62 363h1v1h-1zM93 364h1v1h-1zM95 366h1v1h-1zM61 367h1v1h-1zM93 369h1v1h-1zM94 371h1v1h-1zM95 372h1v1h-1zM93 373h1v1h-1z" fill="#acacac"/>
<path d="M73 317h1v1h-1zM76 322h1v1h-1zM72 323h1v1h-1zM78 323h1v1h-1zM71 324h1v1h-1zM74 324h1v1h-1zM77 324h1v1h-1zM75 326h1v1h-1zM78 326h2v1h-2zM74 327h1v1h-1zM76 327h1v1h-1zM78 327h2v1h-2zM72 328h1v1h-1zM74 328h2v1h-2zM73 329h1v1h-1zM76 329h2v1h-2zM75 330h4v1h-4zM77 331h1v1h-1zM79 331h1v1h-1zM72 332h4v1h-4zM77 332h2v1h-2zM73 333h2v1h-2zM76 333h1v1h-1zM78 333h2v1h-2zM70 334h1v1h-1zM75 334h4v1h-4zM71 335h1v1h-1zM73 335h3v1h-3zM78 335h1v1h-1zM71 336h1v1h-1zM80 336h1v1h-1zM72 337h1v1h-1zM74 337h6v1h-6zM74 338h4v1h-4zM80 338h1v1h-1zM71 339h1v1h-1zM73 339h2v1h-2zM76 339h1v1h-1zM79 339h1v1h-1zM73 340h1v1h-1zM76 340h1v1h-1zM80 340h1v1h-1zM71 341h1v1h-1zM74 341h1v1h-1zM76 341h2v1h-2zM75 342h2v1h-2zM78 342h1v1h-1zM81 342h1v1h-1zM75 343h3v1h-3zM72 344h1v1h-1zM75 344h4v1h-4zM75 345h2v1h-2zM73 346h1v1h-1zM75 346h5v1h-5zM74 347h4v1h-4zM74 348h6v1h-6zM73 349h6v1h-6zM74 350h4v1h-4zM73 351h6v1h-6zM73 352h7v1h-7zM81 352h1v1h-1zM73 353h6v1h-6zM80 353h1v1h-1zM73 354h9v1h-9zM83 354h1v1h-1zM72 355h9v1h-9zM85 355h1v1h-1zM87 355h1v1h-1zM69 356h1v1h-1zM71 356h13v1h-13zM85 356h4v1h-4zM67 357h1v1h-1zM69 357h21v1h-21zM63 358h1v1h-1zM68 358h24v1h-24zM93 358h1v1h-1zM65 359h1v1h-1zM68 359h24v1h-24zM61 360h1v1h-1zM65 360h1v1h-1zM67 360h26v1h-26zM65 361h28v1h-28zM64 362h31v1h-31zM64 363h31v1h-31zM62 364h31v1h-31zM94 364h1v1h-1zM62 365h1v1h-1zM64 365h30v1h-30zM61 366h1v1h-1zM63 366h32v1h-32zM62 367h34v1h-34zM61 368h1v1h-1zM64 368h31v1h-31zM62 369h31v1h-31zM64 370h31v1h-31zM63 371h31v1h-31zM62 372h33v1h-33zM63 373h30v1h-30zM95 373h1v1h-1z" fill="#000"/>
<line x1="83.0" y1="305.2" x2="83.0" y2="373.8" stroke="#b4b4b4" stroke-width="1"/>
<line x1="60.2" y1="352.7" x2="128.5" y2="352.7" stroke="#b4b4b4" stroke-width="1.2"/>
<line x1="60.2" y1="305.2" x2="128.5" y2="305.2" stroke="#8c8c8c" stroke-width="1.2"/>
<line x1="128.5" y1="305.2" x2="128.5" y2="373.8" stroke="#8c8c8c" stroke-width="1.2"/>
<line x1="60.2" y1="373.8" x2="128.5" y2="373.8" stroke="#8c8c8c" stroke-width="1.2"/>
<line x1="60.2" y1="305.2" x2="60.2" y2="373.8" stroke="#8c8c8c" stroke-width="1.2"/>
<ellipse cx="53.2" cy="306.0" rx="1.3" ry="0.75" fill="#555"/>
<rect x="55.6" y="303.5" width="1.1" height="1.1" fill="#666"/>
<ellipse cx="53.2" cy="323.2" rx="1.3" ry="0.75" fill="#555"/>
<rect x="55.6" y="320.7" width="1.1" height="1.1" fill="#666"/>
<ellipse cx="53.2" cy="340.3" rx="1.3" ry="0.75" fill="#555"/>
<rect x="55.6" y="337.8" width="1.1" height="1.1" fill="#666"/>
<ellipse cx="53.2" cy="357.4" rx="1.3" ry="0.75" fill="#555"/>
<rect x="55.6" y="354.9" width="1.1" height="1.1" fill="#666"/>
<ellipse cx="53.2" cy="374.6" rx="1.3" ry="0.75" fill="#555"/>
<rect x="55.6" y="372.1" width="1.1" height="1.1" fill="#666"/>
<ellipse cx="58.4" cy="380.3" rx="1.3" ry="0.75" fill="#555"/>
<rect x="61.0" y="377.8" width="1.1" height="1.1" fill="#666"/>
<ellipse cx="75.5" cy="380.3" rx="1.3" ry="0.75" fill="#555"/>
<rect x="78.1" y="377.8" width="1.1" height="1.1" fill="#666"/>
<ellipse cx="92.5" cy="380.3" rx="1.3" ry="0.75" fill="#555"/>
<rect x="95.1" y="377.8" width="1.1" height="1.1" fill="#666"/>
<ellipse cx="109.6" cy="380.3" rx="1.3" ry="0.75" fill="#555"/>
<rect x="112.2" y="377.8" width="1.1" height="1.1" fill="#666"/>
<ellipse cx="126.7" cy="380.3" rx="1.3" ry="0.75" fill="#555"/>
<rect x="129.3" y="377.8" width="1.1" height="1.1" fill="#666"/>
<text x="63.5" y="314.7" font-size="9" text-anchor="start" fill="#222" stroke="#222" stroke-width="0.15">0.4</text>
<text x="124.5" y="314.7" font-size="9" text-anchor="end" fill="#222" stroke="#222" stroke-width="0.15">0</text>
<text x="127.1" y="371.5" font-size="9" text-anchor="end" fill="#222" stroke="#222" stroke-width="0.15">4.3</text>
<path d="M172 323h1v1h-1zM177 324h1v1h-1zM179 324h1v1h-1zM175 326h1v1h-1zM173 328h3v1h-3zM179 328h1v1h-1zM173 329h1v1h-1zM177 329h1v1h-1zM171 330h2v1h-2zM175 330h3v1h-3zM179 330h1v1h-1zM173 331h1v1h-1zM175 331h1v1h-1zM178 331h1v1h-1zM180 331h1v1h-1zM184 331h1v1h-1zM179 332h1v1h-1zM175 333h1v1h-1zM177 333h1v1h-1zM174 334h1v1h-1zM177 334h1v1h-1zM180 334h2v1h-2zM174 335h1v1h-1zM176 335h2v1h-2zM180 335h1v1h-1zM175 336h1v1h-1zM177 336h2v1h-2zM180 336h1v1h-1zM178 337h3v1h-3zM172 338h1v1h-1zM177 338h3v1h-3zM169 339h1v1h-1zM171 339h1v1h-1zM178 339h1v1h-1zM175 341h1v1h-1zM177 341h1v1h-1zM175 342h1v1h-1zM174 343h1v1h-1zM179 343h1v1h-1zM183 344h1v1h-1zM177 347h1v1h-1zM174 348h1v1h-1zM174 350h1v1h-1zM171 353h1v1h-1zM177 353h2v1h-2zM182 353h1v1h-1zM187 353h1v1h-1zM168 354h1v1h-1zM180 354h2v1h-2zM169 355h1v1h-1zM172 355h1v1h-1zM179 355h1v1h-1zM185 355h1v1h-1zM177 356h1v1h-1zM186 356h3v1h-3zM190 357h1v1h-1zM191 358h1v1h-1zM196 360h1v1h-1zM192 362h1v1h-1zM194 363h1v1h-1zM194 365h1v1h-1zM196 365h1v1h-1zM199 367h1v1h-1zM162 368h2v1h-2zM194 368h1v1h-1zM195 369h1v1h-1zM196 370h1v1h-1zM162 371h1v1h-1z" fill="#acacac"/>
<path d="M177 328h1v1h-1zM178 330h1v1h-1zM175 332h1v1h-1zM178 332h1v1h-1zM174 333h1v1h-1zM176 333h1v1h-1zM178 333h1v1h-1zM180 333h2v1h-2zM172 334h1v1h-1zM175 334h1v1h-1zM179 334h1v1h-1zM172 335h2v1h-2zM175 335h1v1h-1zM178 335h2v1h-2zM173 336h2v1h-2zM176 336h1v1h-1zM175 337h1v1h-1zM175 338h1v1h-1zM172 339h2v1h-2zM177 339h1v1h-1zM174 340h3v1h-3zM179 340h1v1h-1zM174 341h1v1h-1zM176 341h1v1h-1zM179 341h1v1h-1zM176 342h4v1h-4zM172 343h2v1h-2zM176 343h3v1h-3zM180 343h1v1h-1zM182 343h1v1h-1zM175 344h1v1h-1zM177 344h2v1h-2zM171 345h4v1h-4zM177 345h3v1h-3zM178 346h1v1h-1zM180 346h1v1h-1zM173 347h1v1h-1zM178 347h1v1h-1zM175 348h2v1h-2zM180 348h1v1h-1zM172 349h1v1h-1zM174 349h1v1h-1zM177 349h1v1h-1zM172 350h1v1h-1zM175 350h2v1h-2zM176 351h1v1h-1zM174 352h1v1h-1zM178 352h1v1h-1zM169 353h1v1h-1zM172 353h1v1h-1zM174 353h1v1h-1zM173 354h1v1h-1zM179 354h1v1h-1zM171 355h1v1h-1zM175 355h3v1h-3zM180 355h1v1h-1zM187 355h1v1h-1zM189 355h1v1h-1zM172 356h5v1h-5zM178 356h4v1h-4zM184 356h1v1h-1zM170 357h18v1h-18zM189 357h1v1h-1zM168 358h21v1h-21zM190 358h1v1h-1zM168 359h24v1h-24zM166 360h27v1h-27zM165 361h28v1h-28zM164 362h28v1h-28zM193 362h1v1h-1zM161 363h2v1h-2zM164 363h29v1h-29zM161 364h3v1h-3zM165 364h29v1h-29zM162 365h32v1h-32zM161 366h33v1h-33zM163 367h31v1h-31zM164 368h30v1h-30zM161 369h2v1h-2zM164 369h30v1h-30zM163 370h32v1h-32zM164 371h30v1h-30zM164 372h30v1h-30zM162 373h32v1h-32z" fill="#000"/>
<line x1="181.4" y1="305.2" x2="181.4" y2="373.8" stroke="#b4b4b4" stroke-width="1"/>
<line x1="160.2" y1="351.9" x2="229.4" y2="351.9" stroke="#b4b4b4" stroke-width="1.2"/>
<line x1="160.2" y1="305.2" x2="229.4" y2="305.2" stroke="#8c8c8c" stroke-width="1.2"/>
<line x1="229.4" y1="305.2" x2="229.4" y2="373.8" stroke="#8c8c8c" stroke-width="1.2"/>
<line x1="160.2" y1="373.8" x2="229.4" y2="373.8" stroke="#8c8c8c" stroke-width="1.2"/>
<line x1="160.2" y1="305.2" x2="160.2" y2="373.8" stroke="#8c8c8c" stroke-width="1.2"/>
<ellipse cx="153.2" cy="306.0" rx="1.3" ry="0.75" fill="#555"/>
<rect x="155.6" y="303.5" width="1.1" height="1.1" fill="#666"/>
<ellipse cx="153.2" cy="323.2" rx="1.3" ry="0.75" fill="#555"/>
<rect x="155.6" y="320.7" width="1.1" height="1.1" fill="#666"/>
<ellipse cx="153.2" cy="340.3" rx="1.3" ry="0.75" fill="#555"/>
<rect x="155.6" y="337.8" width="1.1" height="1.1" fill="#666"/>
<ellipse cx="153.2" cy="357.4" rx="1.3" ry="0.75" fill="#555"/>
<rect x="155.6" y="354.9" width="1.1" height="1.1" fill="#666"/>
<ellipse cx="153.2" cy="374.6" rx="1.3" ry="0.75" fill="#555"/>
<rect x="155.6" y="372.1" width="1.1" height="1.1" fill="#666"/>
<ellipse cx="158.4" cy="380.3" rx="1.3" ry="0.75" fill="#555"/>
<rect x="161.0" y="377.8" width="1.1" height="1.1" fill="#666"/>
<ellipse cx="175.7" cy="380.3" rx="1.3" ry="0.75" fill="#555"/>
<rect x="178.3" y="377.8" width="1.1" height="1.1" fill="#666"/>
<ellipse cx="193.0" cy="380.3" rx="1.3" ry="0.75" fill="#555"/>
<rect x="195.6" y="377.8" width="1.1" height="1.1" fill="#666"/>
<ellipse cx="210.3" cy="380.3" rx="1.3" ry="0.75" fill="#555"/>
<rect x="212.9" y="377.8" width="1.1" height="1.1" fill="#666"/>
<ellipse cx="227.6" cy="380.3" rx="1.3" ry="0.75" fill="#555"/>
<rect x="230.2" y="377.8" width="1.1" height="1.1" fill="#666"/>
<text x="163" y="314.7" font-size="9" text-anchor="start" fill="#222" stroke="#222" stroke-width="0.15">0.3</text>
<text x="226.2" y="314.7" font-size="9" text-anchor="end" fill="#222" stroke="#222" stroke-width="0.15">0</text>
<text x="228.0" y="371.7" font-size="9" text-anchor="end" fill="#222" stroke="#222" stroke-width="0.15" font-style="italic">7.7</text>
<line x1="60" y1="387.4" x2="229.5" y2="387.4" stroke="#000" stroke-width="1.8"/>
<text x="143.5" y="405.6" font-size="14" text-anchor="middle" fill="#000" >FoxP3</text>
<text x="270.6" y="13.8" font-size="18.5" text-anchor="start" fill="#000" font-weight="bold" >B</text>
<text x="346.75" y="25.5" font-size="14" text-anchor="middle" fill="#000" >Baseline</text>
<text x="467.1" y="25.9" font-size="14" text-anchor="middle" fill="#000" >Week 8</text>
<line x1="283" y1="36.3" x2="283" y2="125" stroke="#000" stroke-width="1.6"/>
<text transform="translate(277.9,77.6) rotate(-90) scale(0.86,1)" font-size="16" text-anchor="middle" fill="#000">CD4</text>
<rect x="303.1" y="36.3" width="87.79999999999995" height="87.4" fill="none" stroke="#000" stroke-width="1.8"/>
<text x="299.6" y="38.8" font-size="4.5" fill="#555" text-anchor="end">10<tspan font-size="3.15" dy="-1.6">4</tspan></text>
<text x="299.6" y="60.65" font-size="4.5" fill="#555" text-anchor="end">10<tspan font-size="3.15" dy="-1.6">3</tspan></text>
<text x="299.6" y="82.5" font-size="4.5" fill="#555" text-anchor="end">10<tspan font-size="3.15" dy="-1.6">2</tspan></text>
<text x="299.6" y="104.35000000000001" font-size="4.5" fill="#555" text-anchor="end">10<tspan font-size="3.15" dy="-1.6">1</tspan></text>
<text x="299.6" y="126.2" font-size="4.5" fill="#555" text-anchor="end">10<tspan font-size="3.15" dy="-1.6">0</tspan></text>
<text x="303.1" y="133.5" font-size="4.4" fill="#444" text-anchor="middle">0</text>
<text x="320.0" y="133.5" font-size="4.4" fill="#444" text-anchor="middle">200</text>
<text x="336.9" y="133.5" font-size="4.4" fill="#444" text-anchor="middle">400</text>
<text x="353.8" y="133.5" font-size="4.4" fill="#444" text-anchor="middle">600</text>
<text x="370.6" y="133.5" font-size="4.4" fill="#444" text-anchor="middle">800</text>
<text x="387.5" y="133.5" font-size="4.4" fill="#444" text-anchor="middle">1000</text>
<rect x="427.6" y="37.8" width="87.10000000000002" height="85.7" fill="none" stroke="#000" stroke-width="1.8"/>
<text x="424.1" y="40.3" font-size="4.5" fill="#555" text-anchor="end">10<tspan font-size="3.15" dy="-1.6">4</tspan></text>
<text x="424.1" y="61.724999999999994" font-size="4.5" fill="#555" text-anchor="end">10<tspan font-size="3.15" dy="-1.6">3</tspan></text>
<text x="424.1" y="83.15" font-size="4.5" fill="#555" text-anchor="end">10<tspan font-size="3.15" dy="-1.6">2</tspan></text>
<text x="424.1" y="104.575" font-size="4.5" fill="#555" text-anchor="end">10<tspan font-size="3.15" dy="-1.6">1</tspan></text>
<text x="424.1" y="126.0" font-size="4.5" fill="#555" text-anchor="end">10<tspan font-size="3.15" dy="-1.6">0</tspan></text>
<text x="427.6" y="133.3" font-size="4.4" fill="#444" text-anchor="middle">0</text>
<text x="444.4" y="133.3" font-size="4.4" fill="#444" text-anchor="middle">200</text>
<text x="461.1" y="133.3" font-size="4.4" fill="#444" text-anchor="middle">400</text>
<text x="477.9" y="133.3" font-size="4.4" fill="#444" text-anchor="middle">600</text>
<text x="494.6" y="133.3" font-size="4.4" fill="#444" text-anchor="middle">800</text>
<text x="511.4" y="133.3" font-size="4.4" fill="#444" text-anchor="middle">1000</text>
<rect x="314.6" y="83.5" width="24" height="17.6" fill="none" stroke="#000" stroke-width="1.3"/>
<path d="M320.3 99 C319.8 93.5 322.5 88.5 328.5 87.4 C334 86.6 338.5 89 338.5 93 L338.5 100 C336 102.3 331 103 326 102.8 C322.5 102.5 320.5 101 320.3 99 Z" fill="#000"/>
<clipPath id="cl1"><path d="M320.3 99 C319.8 93.5 322.5 88.5 328.5 87.4 C334 86.6 338.5 89 338.5 93 L338.5 100 C336 102.3 331 103 326 102.8 C322.5 102.5 320.5 101 320.3 99 Z"/></clipPath>
<g clip-path="url(#cl1)" fill="none" stroke="#fff" stroke-opacity="0.55"><path d="M320.3 99 C319.8 93.5 322.5 88.5 328.5 87.4 C334 86.6 338.5 89 338.5 93 L338.5 100 C336 102.3 331 103 326 102.8 C322.5 102.5 320.5 101 320.3 99 Z" stroke-width="0.67" transform="translate(329.5 94.8) scale(0.82) translate(-329.5 -94.8)"/><path d="M320.3 99 C319.8 93.5 322.5 88.5 328.5 87.4 C334 86.6 338.5 89 338.5 93 L338.5 100 C336 102.3 331 103 326 102.8 C322.5 102.5 320.5 101 320.3 99 Z" stroke-width="0.86" transform="translate(329.5 94.8) scale(0.64) translate(-329.5 -94.8)"/><path d="M320.3 99 C319.8 93.5 322.5 88.5 328.5 87.4 C334 86.6 338.5 89 338.5 93 L338.5 100 C336 102.3 331 103 326 102.8 C322.5 102.5 320.5 101 320.3 99 Z" stroke-width="1.20" transform="translate(329.5 94.8) scale(0.46) translate(-329.5 -94.8)"/></g>
<ellipse cx="327.9" cy="94.5" rx="1.5" ry="0.9" fill="#aaa"/>
<path d="M323.2 101.5 C321.5 108 322 116 324 123 L336.4 123 L336.4 101.5 Z" fill="#111"/>
<clipPath id="cl2"><path d="M323.2 101.5 C321.5 108 322 116 324 123 L336.4 123 L336.4 101.5 Z"/></clipPath>
<g clip-path="url(#cl2)" fill="none" stroke="#fff" stroke-opacity="0.5"><path d="M323.2 101.5 C321.5 108 322 116 324 123 L336.4 123 L336.4 101.5 Z" stroke-width="0.59" transform="translate(329.5 111) scale(0.85) translate(-329.5 -111)"/><path d="M323.2 101.5 C321.5 108 322 116 324 123 L336.4 123 L336.4 101.5 Z" stroke-width="0.71" transform="translate(329.5 111) scale(0.7) translate(-329.5 -111)"/><path d="M323.2 101.5 C321.5 108 322 116 324 123 L336.4 123 L336.4 101.5 Z" stroke-width="0.91" transform="translate(329.5 111) scale(0.55) translate(-329.5 -111)"/></g>
<ellipse cx="328.6" cy="110" rx="1.8" ry="3.2" fill="#666"/>
<path d="M326.6 123 C326.3 120.5 326.8 118.5 328 117.3 C329.2 118.5 329.6 120.5 329.6 123 Z" fill="#fff"/>
<path d="M331 123 C330.8 121 331.2 119.5 332 118.8 C332.8 119.5 333 121 333 123 Z" fill="#ddd"/>
<path d="M325 104 C324 103 323.5 103.5 324 105 Z" fill="#fff"/>
<path d="M322.6 102.6 C321.5 105.5 320.5 107.5 319 109" stroke="#000" stroke-width="1.2" fill="none"/>
<circle cx="316.8" cy="111.2" r="2.8" fill="none" stroke="#000" stroke-width="1.2"/>
<path d="M319.5 112.5 C321 115.5 322.5 119 323.8 122.5" stroke="#000" stroke-width="1.2" fill="none"/>
<path d="M311.5 123.4 C313 121.2 315.5 120.6 318.2 123.4 Z" fill="#000"/>
<text x="331.2" y="78.7" font-size="9" text-anchor="start" fill="#222" >55.2</text>
<line x1="336.4" y1="101" x2="336.4" y2="149" stroke="#000" stroke-width="1.5"/>
<path d="M333.6 147.6 L339.3 147.6 L336.4 155.5 Z" fill="#000"/>
<rect x="439.3" y="83.5" width="23.2" height="16.5" fill="none" stroke="#000" stroke-width="1.3"/>
<path d="M443 98 C440.8 93 443 87.5 448.5 85.5 C453 84 458 84.2 461.8 84.6 L461.8 90 C459 94 455 97.5 450 99.3 C446.5 100.2 444 100 443 98 Z" fill="#000"/>
<clipPath id="cl3"><path d="M443 98 C440.8 93 443 87.5 448.5 85.5 C453 84 458 84.2 461.8 84.6 L461.8 90 C459 94 455 97.5 450 99.3 C446.5 100.2 444 100 443 98 Z"/></clipPath>
<g clip-path="url(#cl3)" fill="none" stroke="#fff" stroke-opacity="0.45"><path d="M443 98 C440.8 93 443 87.5 448.5 85.5 C453 84 458 84.2 461.8 84.6 L461.8 90 C459 94 455 97.5 450 99.3 C446.5 100.2 444 100 443 98 Z" stroke-width="0.62" transform="translate(452.5 91.5) scale(0.8) translate(-452.5 -91.5)"/><path d="M443 98 C440.8 93 443 87.5 448.5 85.5 C453 84 458 84.2 461.8 84.6 L461.8 90 C459 94 455 97.5 450 99.3 C446.5 100.2 444 100 443 98 Z" stroke-width="0.83" transform="translate(452.5 91.5) scale(0.6) translate(-452.5 -91.5)"/></g>
<ellipse cx="453" cy="90.5" rx="2.5" ry="0.9" transform="rotate(-30 453 90.5)" fill="#444"/>
<path d="M443.5 96.2 C441.5 96.5 440.3 98.5 440.5 102.5 L441.8 102.5 C441.8 100.5 442.5 99.3 444.3 99" stroke="#000" stroke-width="1.1" fill="#000"/>
<path d="M452.5 102.3 C448 104 444 107.5 441 110.6 L442.2 113.9 C444.5 116.5 447.5 119.5 449.6 121.3 C451 121.5 452.5 121 453.4 120.8 C455.5 118.5 457.5 116.5 458.3 114.7 C459.2 111 459.2 107.5 458.8 106 C457.5 103.5 455 102.3 452.5 102.3 Z" fill="none" stroke="#000" stroke-width="1.2"/>
<ellipse cx="452.5" cy="110" rx="6.3" ry="7.2" fill="none" stroke="#000" stroke-width="1.3"/>
<ellipse cx="452.5" cy="110" rx="4.6" ry="5.4" fill="none" stroke="#000" stroke-width="1.2"/>
<ellipse cx="452.5" cy="110.3" rx="2.8" ry="3.3" fill="#444" stroke="#000" stroke-width="1.1"/>
<ellipse cx="452.5" cy="107.3" rx="2.6" ry="1.6" fill="#000"/>
<path d="M447.8 123.5 L449.6 120.3 L452 123.5 Z" fill="#000"/>
<text x="455.5" y="79.7" font-size="9" text-anchor="start" fill="#222" >64.1</text>
<line x1="460.8" y1="100" x2="460.8" y2="148" stroke="#000" stroke-width="1.5"/>
<path d="M458 146.6 L463.6 146.6 L460.8 154.5 Z" fill="#000"/>
<line x1="302" y1="136.7" x2="515.5" y2="136.7" stroke="#000" stroke-width="2"/>
<text x="355.0" y="150.7" font-size="14" text-anchor="start" fill="#000" >Forward Scatter</text>
<text transform="translate(277.9,209.3) rotate(-90) scale(0.86,1)" font-size="16" text-anchor="middle" fill="#000">CD25</text>
<line x1="283" y1="162.5" x2="283" y2="258" stroke="#000" stroke-width="1.6"/>
<text transform="translate(277.8,321.2) rotate(-90) scale(0.86,1)" font-size="16" text-anchor="middle" fill="#000">CD127</text>
<line x1="282.8" y1="275.8" x2="282.8" y2="372.5" stroke="#000" stroke-width="1.6"/>
<line x1="300" y1="162.2" x2="397.3" y2="162.2" stroke="#808080" stroke-width="1"/>
<line x1="397.3" y1="162.2" x2="397.3" y2="259.5" stroke="#808080" stroke-width="1"/>
<path d="M297.4 259.5h2.6M300.0 259.5v2.6M298.4 252.2h1.6M307.3 259.5v1.6M298.4 247.9h1.6M311.6 259.5v1.6M298.4 244.9h1.6M314.6 259.5v1.6M298.4 242.5h1.6M317.0 259.5v1.6M298.4 240.6h1.6M318.9 259.5v1.6M298.4 238.9h1.6M320.6 259.5v1.6M298.4 237.5h1.6M322.0 259.5v1.6M298.4 236.3h1.6M323.2 259.5v1.6M297.4 235.2h2.6M324.3 259.5v2.6M298.4 227.9h1.6M331.6 259.5v1.6M298.4 223.6h1.6M335.9 259.5v1.6M298.4 220.5h1.6M339.0 259.5v1.6M298.4 218.2h1.6M341.3 259.5v1.6M298.4 216.2h1.6M343.3 259.5v1.6M298.4 214.6h1.6M344.9 259.5v1.6M298.4 213.2h1.6M346.3 259.5v1.6M298.4 212.0h1.6M347.5 259.5v1.6M297.4 210.8h2.6M348.6 259.5v2.6M298.4 203.5h1.6M356.0 259.5v1.6M298.4 199.2h1.6M360.3 259.5v1.6M298.4 196.2h1.6M363.3 259.5v1.6M298.4 193.8h1.6M365.7 259.5v1.6M298.4 191.9h1.6M367.6 259.5v1.6M298.4 190.3h1.6M369.2 259.5v1.6M298.4 188.9h1.6M370.6 259.5v1.6M298.4 187.6h1.6M371.9 259.5v1.6M297.4 186.5h2.6M373.0 259.5v2.6M298.4 179.2h1.6M380.3 259.5v1.6M298.4 174.9h1.6M384.6 259.5v1.6M298.4 171.9h1.6M387.6 259.5v1.6M298.4 169.5h1.6M390.0 259.5v1.6M298.4 167.6h1.6M391.9 259.5v1.6M298.4 166.0h1.6M393.5 259.5v1.6M298.4 164.6h1.6M394.9 259.5v1.6M298.4 163.3h1.6M396.2 259.5v1.6M297.4 162.2h2.6M397.3 259.5v2.6" stroke="#000" stroke-width="0.9" fill="none"/>
<line x1="300" y1="161.7" x2="300" y2="260.4" stroke="#000" stroke-width="1.8"/>
<line x1="299.1" y1="259.5" x2="397.8" y2="259.5" stroke="#000" stroke-width="1.8"/>
<text x="296.8" y="163.79999999999998" font-size="4.5" fill="#555" text-anchor="end">10<tspan font-size="3.15" dy="-1.6">4</tspan></text>
<text x="296.8" y="188.12499999999997" font-size="4.5" fill="#555" text-anchor="end">10<tspan font-size="3.15" dy="-1.6">3</tspan></text>
<text x="296.8" y="212.45" font-size="4.5" fill="#555" text-anchor="end">10<tspan font-size="3.15" dy="-1.6">2</tspan></text>
<text x="296.8" y="236.775" font-size="4.5" fill="#555" text-anchor="end">10<tspan font-size="3.15" dy="-1.6">1</tspan></text>
<text x="296.8" y="261.1" font-size="4.5" fill="#555" text-anchor="end">10<tspan font-size="3.15" dy="-1.6">0</tspan></text>
<text x="300.0" y="267.5" font-size="4.5" fill="#555" text-anchor="middle">10<tspan font-size="3.15" dy="-1.6">0</tspan></text>
<text x="324.325" y="267.5" font-size="4.5" fill="#555" text-anchor="middle">10<tspan font-size="3.15" dy="-1.6">1</tspan></text>
<text x="348.65" y="267.5" font-size="4.5" fill="#555" text-anchor="middle">10<tspan font-size="3.15" dy="-1.6">2</tspan></text>
<text x="372.975" y="267.5" font-size="4.5" fill="#555" text-anchor="middle">10<tspan font-size="3.15" dy="-1.6">3</tspan></text>
<text x="397.3" y="267.5" font-size="4.5" fill="#555" text-anchor="middle">10<tspan font-size="3.15" dy="-1.6">4</tspan></text>
<line x1="419.2" y1="162.2" x2="515.6" y2="162.2" stroke="#808080" stroke-width="1"/>
<line x1="515.6" y1="162.2" x2="515.6" y2="259.4" stroke="#808080" stroke-width="1"/>
<path d="M416.6 259.4h2.6M419.2 259.4v2.6M417.6 252.1h1.6M426.5 259.4v1.6M417.6 247.8h1.6M430.7 259.4v1.6M417.6 244.8h1.6M433.7 259.4v1.6M417.6 242.4h1.6M436.0 259.4v1.6M417.6 240.5h1.6M438.0 259.4v1.6M417.6 238.9h1.6M439.6 259.4v1.6M417.6 237.5h1.6M441.0 259.4v1.6M417.6 236.2h1.6M442.2 259.4v1.6M416.6 235.1h2.6M443.3 259.4v2.6M417.6 227.8h1.6M450.6 259.4v1.6M417.6 223.5h1.6M454.8 259.4v1.6M417.6 220.5h1.6M457.8 259.4v1.6M417.6 218.1h1.6M460.1 259.4v1.6M417.6 216.2h1.6M462.1 259.4v1.6M417.6 214.6h1.6M463.7 259.4v1.6M417.6 213.2h1.6M465.1 259.4v1.6M417.6 211.9h1.6M466.3 259.4v1.6M416.6 210.8h2.6M467.4 259.4v2.6M417.6 203.5h1.6M474.7 259.4v1.6M417.6 199.2h1.6M478.9 259.4v1.6M417.6 196.2h1.6M481.9 259.4v1.6M417.6 193.8h1.6M484.2 259.4v1.6M417.6 191.9h1.6M486.2 259.4v1.6M417.6 190.3h1.6M487.8 259.4v1.6M417.6 188.9h1.6M489.2 259.4v1.6M417.6 187.6h1.6M490.4 259.4v1.6M416.6 186.5h2.6M491.5 259.4v2.6M417.6 179.2h1.6M498.8 259.4v1.6M417.6 174.9h1.6M503.0 259.4v1.6M417.6 171.9h1.6M506.0 259.4v1.6M417.6 169.5h1.6M508.3 259.4v1.6M417.6 167.6h1.6M510.3 259.4v1.6M417.6 166.0h1.6M511.9 259.4v1.6M417.6 164.6h1.6M513.3 259.4v1.6M417.6 163.3h1.6M514.5 259.4v1.6M416.6 162.2h2.6M515.6 259.4v2.6" stroke="#000" stroke-width="0.9" fill="none"/>
<line x1="419.2" y1="161.7" x2="419.2" y2="260.29999999999995" stroke="#000" stroke-width="1.8"/>
<line x1="418.3" y1="259.4" x2="516.1" y2="259.4" stroke="#000" stroke-width="1.8"/>
<text x="416.0" y="163.79999999999998" font-size="4.5" fill="#555" text-anchor="end">10<tspan font-size="3.15" dy="-1.6">4</tspan></text>
<text x="416.0" y="188.1" font-size="4.5" fill="#555" text-anchor="end">10<tspan font-size="3.15" dy="-1.6">3</tspan></text>
<text x="416.0" y="212.39999999999998" font-size="4.5" fill="#555" text-anchor="end">10<tspan font-size="3.15" dy="-1.6">2</tspan></text>
<text x="416.0" y="236.69999999999996" font-size="4.5" fill="#555" text-anchor="end">10<tspan font-size="3.15" dy="-1.6">1</tspan></text>
<text x="416.0" y="261.0" font-size="4.5" fill="#555" text-anchor="end">10<tspan font-size="3.15" dy="-1.6">0</tspan></text>
<text x="419.2" y="267.4" font-size="4.5" fill="#555" text-anchor="middle">10<tspan font-size="3.15" dy="-1.6">0</tspan></text>
<text x="443.3" y="267.4" font-size="4.5" fill="#555" text-anchor="middle">10<tspan font-size="3.15" dy="-1.6">1</tspan></text>
<text x="467.4" y="267.4" font-size="4.5" fill="#555" text-anchor="middle">10<tspan font-size="3.15" dy="-1.6">2</tspan></text>
<text x="491.5" y="267.4" font-size="4.5" fill="#555" text-anchor="middle">10<tspan font-size="3.15" dy="-1.6">3</tspan></text>
<text x="515.6" y="267.4" font-size="4.5" fill="#555" text-anchor="middle">10<tspan font-size="3.15" dy="-1.6">4</tspan></text>
<line x1="300" y1="275" x2="397.3" y2="275" stroke="#808080" stroke-width="1"/>
<line x1="397.3" y1="275" x2="397.3" y2="373" stroke="#808080" stroke-width="1"/>
<path d="M297.4 373.0h2.6M300.0 373.0v2.6M298.4 365.6h1.6M307.3 373.0v1.6M298.4 361.3h1.6M311.6 373.0v1.6M298.4 358.2h1.6M314.6 373.0v1.6M298.4 355.9h1.6M317.0 373.0v1.6M298.4 353.9h1.6M318.9 373.0v1.6M298.4 352.3h1.6M320.6 373.0v1.6M298.4 350.9h1.6M322.0 373.0v1.6M298.4 349.6h1.6M323.2 373.0v1.6M297.4 348.5h2.6M324.3 373.0v2.6M298.4 341.1h1.6M331.6 373.0v1.6M298.4 336.8h1.6M335.9 373.0v1.6M298.4 333.7h1.6M339.0 373.0v1.6M298.4 331.4h1.6M341.3 373.0v1.6M298.4 329.4h1.6M343.3 373.0v1.6M298.4 327.8h1.6M344.9 373.0v1.6M298.4 326.4h1.6M346.3 373.0v1.6M298.4 325.1h1.6M347.5 373.0v1.6M297.4 324.0h2.6M348.6 373.0v2.6M298.4 316.6h1.6M356.0 373.0v1.6M298.4 312.3h1.6M360.3 373.0v1.6M298.4 309.2h1.6M363.3 373.0v1.6M298.4 306.9h1.6M365.7 373.0v1.6M298.4 304.9h1.6M367.6 373.0v1.6M298.4 303.3h1.6M369.2 373.0v1.6M298.4 301.9h1.6M370.6 373.0v1.6M298.4 300.6h1.6M371.9 373.0v1.6M297.4 299.5h2.6M373.0 373.0v2.6M298.4 292.1h1.6M380.3 373.0v1.6M298.4 287.8h1.6M384.6 373.0v1.6M298.4 284.7h1.6M387.6 373.0v1.6M298.4 282.4h1.6M390.0 373.0v1.6M298.4 280.4h1.6M391.9 373.0v1.6M298.4 278.8h1.6M393.5 373.0v1.6M298.4 277.4h1.6M394.9 373.0v1.6M298.4 276.1h1.6M396.2 373.0v1.6M297.4 275.0h2.6M397.3 373.0v2.6" stroke="#000" stroke-width="0.9" fill="none"/>
<line x1="300" y1="274.5" x2="300" y2="373.9" stroke="#000" stroke-width="1.8"/>
<line x1="299.1" y1="373" x2="397.8" y2="373" stroke="#000" stroke-width="1.8"/>
<text x="296.8" y="276.6" font-size="4.5" fill="#555" text-anchor="end">10<tspan font-size="3.15" dy="-1.6">4</tspan></text>
<text x="296.8" y="301.1" font-size="4.5" fill="#555" text-anchor="end">10<tspan font-size="3.15" dy="-1.6">3</tspan></text>
<text x="296.8" y="325.6" font-size="4.5" fill="#555" text-anchor="end">10<tspan font-size="3.15" dy="-1.6">2</tspan></text>
<text x="296.8" y="350.1" font-size="4.5" fill="#555" text-anchor="end">10<tspan font-size="3.15" dy="-1.6">1</tspan></text>
<text x="296.8" y="374.6" font-size="4.5" fill="#555" text-anchor="end">10<tspan font-size="3.15" dy="-1.6">0</tspan></text>
<text x="300.0" y="381.0" font-size="4.5" fill="#555" text-anchor="middle">10<tspan font-size="3.15" dy="-1.6">0</tspan></text>
<text x="324.325" y="381.0" font-size="4.5" fill="#555" text-anchor="middle">10<tspan font-size="3.15" dy="-1.6">1</tspan></text>
<text x="348.65" y="381.0" font-size="4.5" fill="#555" text-anchor="middle">10<tspan font-size="3.15" dy="-1.6">2</tspan></text>
<text x="372.975" y="381.0" font-size="4.5" fill="#555" text-anchor="middle">10<tspan font-size="3.15" dy="-1.6">3</tspan></text>
<text x="397.3" y="381.0" font-size="4.5" fill="#555" text-anchor="middle">10<tspan font-size="3.15" dy="-1.6">4</tspan></text>
<line x1="419.2" y1="275" x2="515.6" y2="275" stroke="#808080" stroke-width="1"/>
<line x1="515.6" y1="275" x2="515.6" y2="372.6" stroke="#808080" stroke-width="1"/>
<path d="M416.6 372.6h2.6M419.2 372.6v2.6M417.6 365.3h1.6M426.5 372.6v1.6M417.6 361.0h1.6M430.7 372.6v1.6M417.6 357.9h1.6M433.7 372.6v1.6M417.6 355.5h1.6M436.0 372.6v1.6M417.6 353.6h1.6M438.0 372.6v1.6M417.6 352.0h1.6M439.6 372.6v1.6M417.6 350.6h1.6M441.0 372.6v1.6M417.6 349.3h1.6M442.2 372.6v1.6M416.6 348.2h2.6M443.3 372.6v2.6M417.6 340.9h1.6M450.6 372.6v1.6M417.6 336.6h1.6M454.8 372.6v1.6M417.6 333.5h1.6M457.8 372.6v1.6M417.6 331.1h1.6M460.1 372.6v1.6M417.6 329.2h1.6M462.1 372.6v1.6M417.6 327.6h1.6M463.7 372.6v1.6M417.6 326.2h1.6M465.1 372.6v1.6M417.6 324.9h1.6M466.3 372.6v1.6M416.6 323.8h2.6M467.4 372.6v2.6M417.6 316.5h1.6M474.7 372.6v1.6M417.6 312.2h1.6M478.9 372.6v1.6M417.6 309.1h1.6M481.9 372.6v1.6M417.6 306.7h1.6M484.2 372.6v1.6M417.6 304.8h1.6M486.2 372.6v1.6M417.6 303.2h1.6M487.8 372.6v1.6M417.6 301.8h1.6M489.2 372.6v1.6M417.6 300.5h1.6M490.4 372.6v1.6M416.6 299.4h2.6M491.5 372.6v2.6M417.6 292.1h1.6M498.8 372.6v1.6M417.6 287.8h1.6M503.0 372.6v1.6M417.6 284.7h1.6M506.0 372.6v1.6M417.6 282.3h1.6M508.3 372.6v1.6M417.6 280.4h1.6M510.3 372.6v1.6M417.6 278.8h1.6M511.9 372.6v1.6M417.6 277.4h1.6M513.3 372.6v1.6M417.6 276.1h1.6M514.5 372.6v1.6M416.6 275.0h2.6M515.6 372.6v2.6" stroke="#000" stroke-width="0.9" fill="none"/>
<line x1="419.2" y1="274.5" x2="419.2" y2="373.5" stroke="#000" stroke-width="1.8"/>
<line x1="418.3" y1="372.6" x2="516.1" y2="372.6" stroke="#000" stroke-width="1.8"/>
<text x="416.0" y="276.6" font-size="4.5" fill="#555" text-anchor="end">10<tspan font-size="3.15" dy="-1.6">4</tspan></text>
<text x="416.0" y="301.0" font-size="4.5" fill="#555" text-anchor="end">10<tspan font-size="3.15" dy="-1.6">3</tspan></text>
<text x="416.0" y="325.40000000000003" font-size="4.5" fill="#555" text-anchor="end">10<tspan font-size="3.15" dy="-1.6">2</tspan></text>
<text x="416.0" y="349.80000000000007" font-size="4.5" fill="#555" text-anchor="end">10<tspan font-size="3.15" dy="-1.6">1</tspan></text>
<text x="416.0" y="374.20000000000005" font-size="4.5" fill="#555" text-anchor="end">10<tspan font-size="3.15" dy="-1.6">0</tspan></text>
<text x="419.2" y="380.6" font-size="4.5" fill="#555" text-anchor="middle">10<tspan font-size="3.15" dy="-1.6">0</tspan></text>
<text x="443.3" y="380.6" font-size="4.5" fill="#555" text-anchor="middle">10<tspan font-size="3.15" dy="-1.6">1</tspan></text>
<text x="467.4" y="380.6" font-size="4.5" fill="#555" text-anchor="middle">10<tspan font-size="3.15" dy="-1.6">2</tspan></text>
<text x="491.5" y="380.6" font-size="4.5" fill="#555" text-anchor="middle">10<tspan font-size="3.15" dy="-1.6">3</tspan></text>
<text x="515.6" y="380.6" font-size="4.5" fill="#555" text-anchor="middle">10<tspan font-size="3.15" dy="-1.6">4</tspan></text>
<path d="M314.5 259.3 C313 254 311.5 245 312.2 238.7 C313 234 314 232.5 316.2 230.6 C319 227.5 322 224 325.4 223.3 C328 223 330.5 224.5 332 226.5 L333.6 228 L333.6 259.3 Z" fill="#000"/>
<path d="M314.8 257 C313.8 251 313.6 244 314.4 239 C315.2 235 316.5 233 318.5 231" stroke="#fff" stroke-width="0.8" fill="none"/>
<clipPath id="cl4"><path d="M314.5 259.3 C313 254 311.5 245 312.2 238.7 C313 234 314 232.5 316.2 230.6 C319 227.5 322 224 325.4 223.3 C328 223 330.5 224.5 332 226.5 L333.6 228 L333.6 259.3 Z"/></clipPath>
<g clip-path="url(#cl4)" fill="none" stroke="#fff" stroke-opacity="0.6" stroke-width="0.55"><path d="M314.5 259.3 C313 254 311.5 245 312.2 238.7 C313 234 314 232.5 316.2 230.6 C319 227.5 322 224 325.4 223.3 C328 223 330.5 224.5 332 226.5 L333.6 228 L333.6 259.3 Z" transform="translate(1.30 -0.60)"/><path d="M314.5 259.3 C313 254 311.5 245 312.2 238.7 C313 234 314 232.5 316.2 230.6 C319 227.5 322 224 325.4 223.3 C328 223 330.5 224.5 332 226.5 L333.6 228 L333.6 259.3 Z" transform="translate(2.60 -1.20)"/></g>
<path d="M333.6 227.5 C335 226.5 335.2 223 335.7 221.4 C336.5 218.5 339 215.8 342.8 215.7 C345.5 215.8 346.8 217.5 346.4 220 C346 223 344 228 341.8 232 C340 234.5 337 235.5 333.6 235.7" stroke="#000" stroke-width="1.2" fill="none"/>
<circle cx="340.8" cy="223.4" r="1.1" fill="#000"/>
<rect x="306.5" y="209.6" width="57" height="49.9" fill="none" stroke="#000" stroke-width="1.3"/>
<line x1="333.6" y1="209.6" x2="333.6" y2="259.5" stroke="#000" stroke-width="1.4"/>
<text x="311.3" y="207.6" font-size="9.2" text-anchor="start" fill="#111" font-weight="bold" >94.2</text>
<text x="339.5" y="207.6" font-size="9.2" text-anchor="start" fill="#111" font-weight="bold" >5.8</text>
<path d="M436.3 259.3 C436 252 436 243 436.9 237.3 C438 232 439.5 229 441.5 226.9 C443.5 225 445.5 223.8 447.3 223.8 C449.5 223.7 451 224.5 452.8 226 L452.8 259.3 Z" fill="#000"/>
<clipPath id="cl5"><path d="M436.3 259.3 C436 252 436 243 436.9 237.3 C438 232 439.5 229 441.5 226.9 C443.5 225 445.5 223.8 447.3 223.8 C449.5 223.7 451 224.5 452.8 226 L452.8 259.3 Z"/></clipPath>
<g clip-path="url(#cl5)" fill="none" stroke="#fff" stroke-opacity="0.4"><path d="M436.3 259.3 C436 252 436 243 436.9 237.3 C438 232 439.5 229 441.5 226.9 C443.5 225 445.5 223.8 447.3 223.8 C449.5 223.7 451 224.5 452.8 226 L452.8 259.3 Z" stroke-width="0.57" transform="translate(447 250) scale(0.88) translate(-447 -250)"/><path d="M436.3 259.3 C436 252 436 243 436.9 237.3 C438 232 439.5 229 441.5 226.9 C443.5 225 445.5 223.8 447.3 223.8 C449.5 223.7 451 224.5 452.8 226 L452.8 259.3 Z" stroke-width="0.66" transform="translate(447 250) scale(0.76) translate(-447 -250)"/></g>
<path d="M450.8 225 C454 222.5 456 217 458.5 213.5 C460.5 211.5 463.5 210.8 465.5 212.5 C467 214.5 465.5 219.5 463 224 C461 227.5 458.5 230.5 456 233.5 C454.5 235.5 453.5 237.5 452.8 239.5" stroke="#000" stroke-width="1.4" fill="none"/>
<path d="M452.8 230 C455.5 228 457.5 225.5 459.5 222.5 C461.5 219 463.5 215.5 462.5 213.5 C461 211.8 458 213 456.5 216 C455 219 454 224 452.8 227" stroke="#000" stroke-width="1.3" fill="none"/>
<ellipse cx="459" cy="220.5" rx="2.3" ry="4.6" transform="rotate(28 459 220.5)" fill="none" stroke="#000" stroke-width="1.3"/>
<rect x="430.6" y="208.4" width="52.9" height="51" fill="none" stroke="#000" stroke-width="1.3"/>
<line x1="452.8" y1="208.4" x2="452.8" y2="259.4" stroke="#000" stroke-width="1.4"/>
<text x="432.8" y="205.9" font-size="9.2" text-anchor="start" fill="#111" font-weight="bold" >88.9</text>
<text x="459.4" y="205.9" font-size="9.2" text-anchor="start" fill="#111" font-weight="bold" >10.6</text>
<path d="M326.3 316.6 C330.5 317 333 322 333.5 330 C334 340 332.5 350 330 357 C328 362 325.5 364.5 323 364.3 C319.5 363.5 316.5 357 313.5 350 C310.5 344 309.5 340 310.2 335.5 C311.5 328 316 322 321 318.5 C322.8 317.2 324.5 316.5 326.3 316.6 Z" fill="#000"/>
<clipPath id="cl6"><path d="M326.3 316.6 C330.5 317 333 322 333.5 330 C334 340 332.5 350 330 357 C328 362 325.5 364.5 323 364.3 C319.5 363.5 316.5 357 313.5 350 C310.5 344 309.5 340 310.2 335.5 C311.5 328 316 322 321 318.5 C322.8 317.2 324.5 316.5 326.3 316.6 Z"/></clipPath>
<g clip-path="url(#cl6)" fill="none" stroke="#fff" stroke-opacity="0.55" stroke-width="0.5"><path d="M326.3 316.6 C330.5 317 333 322 333.5 330 C334 340 332.5 350 330 357 C328 362 325.5 364.5 323 364.3 C319.5 363.5 316.5 357 313.5 350 C310.5 344 309.5 340 310.2 335.5 C311.5 328 316 322 321 318.5 C322.8 317.2 324.5 316.5 326.3 316.6 Z" transform="translate(0.75 -1.25)"/><path d="M326.3 316.6 C330.5 317 333 322 333.5 330 C334 340 332.5 350 330 357 C328 362 325.5 364.5 323 364.3 C319.5 363.5 316.5 357 313.5 350 C310.5 344 309.5 340 310.2 335.5 C311.5 328 316 322 321 318.5 C322.8 317.2 324.5 316.5 326.3 316.6 Z" transform="translate(1.50 -2.50)"/><path d="M326.3 316.6 C330.5 317 333 322 333.5 330 C334 340 332.5 350 330 357 C328 362 325.5 364.5 323 364.3 C319.5 363.5 316.5 357 313.5 350 C310.5 344 309.5 340 310.2 335.5 C311.5 328 316 322 321 318.5 C322.8 317.2 324.5 316.5 326.3 316.6 Z" transform="translate(2.25 -3.75)"/><path d="M326.3 316.6 C330.5 317 333 322 333.5 330 C334 340 332.5 350 330 357 C328 362 325.5 364.5 323 364.3 C319.5 363.5 316.5 357 313.5 350 C310.5 344 309.5 340 310.2 335.5 C311.5 328 316 322 321 318.5 C322.8 317.2 324.5 316.5 326.3 316.6 Z" transform="translate(3.00 -5.00)"/><path d="M326.3 316.6 C330.5 317 333 322 333.5 330 C334 340 332.5 350 330 357 C328 362 325.5 364.5 323 364.3 C319.5 363.5 316.5 357 313.5 350 C310.5 344 309.5 340 310.2 335.5 C311.5 328 316 322 321 318.5 C322.8 317.2 324.5 316.5 326.3 316.6 Z" transform="translate(3.75 -6.25)"/></g>
<path d="M334.3 338.5 C336 339 337 340.5 338.3 340.8 C341 342 343.5 343.5 344.7 345.9 C346 348.5 346.8 351.5 346.4 354 C345.8 357.5 344.5 359.8 342 360.3 C340 360.5 338 359.8 336.5 357.5 C335.5 356 335 354 334.3 352" stroke="#000" stroke-width="1.2" fill="none"/>
<ellipse cx="339.6" cy="350.5" rx="2.9" ry="4.4" transform="rotate(-15 339.6 350.5)" fill="none" stroke="#000" stroke-width="1.2"/>
<rect x="307.5" y="313.2" width="50.2" height="59.8" fill="none" stroke="#000" stroke-width="1.3"/>
<line x1="334.3" y1="313.2" x2="334.3" y2="373" stroke="#000" stroke-width="1.4"/>
<text x="311.8" y="310.7" font-size="9.2" text-anchor="start" fill="#111" font-weight="bold" >94.2</text>
<text x="336.8" y="310.7" font-size="9.2" text-anchor="start" fill="#111" font-weight="bold" >5.5</text>
<path d="M445 314.6 C449.5 314.2 452.7 317 452.7 321 L452.7 353 C451 357.8 448.5 360.3 445.5 360.3 C440.5 360.3 436.3 354 434.8 345.5 C433.8 338 434 328 436 322 C437.6 317.5 441 314.8 445 314.6 Z" fill="none" stroke="#000" stroke-width="1.1"/>
<path d="M445 316.4 C449 316.2 451.5 318.5 452.7 322 L452.7 352 C451 356.5 448.5 358.7 445.5 358.7 C441.5 358.7 438 353 436.6 345 C435.6 338 435.8 328.5 437.6 323 C439 319 441.8 316.6 445 316.4 Z" fill="#000"/>
<clipPath id="cl7"><path d="M445 316.4 C449 316.2 451.5 318.5 452.7 322 L452.7 352 C451 356.5 448.5 358.7 445.5 358.7 C441.5 358.7 438 353 436.6 345 C435.6 338 435.8 328.5 437.6 323 C439 319 441.8 316.6 445 316.4 Z"/></clipPath>
<g clip-path="url(#cl7)" fill="none" stroke="#fff" stroke-opacity="0.3"><path d="M445 316.4 C449 316.2 451.5 318.5 452.7 322 L452.7 352 C451 356.5 448.5 358.7 445.5 358.7 C441.5 358.7 438 353 436.6 345 C435.6 338 435.8 328.5 437.6 323 C439 319 441.8 316.6 445 316.4 Z" stroke-width="0.51" transform="translate(446 330) scale(0.88) translate(-446 -330)"/><path d="M445 316.4 C449 316.2 451.5 318.5 452.7 322 L452.7 352 C451 356.5 448.5 358.7 445.5 358.7 C441.5 358.7 438 353 436.6 345 C435.6 338 435.8 328.5 437.6 323 C439 319 441.8 316.6 445 316.4 Z" stroke-width="0.61" transform="translate(446 330) scale(0.74) translate(-446 -330)"/></g>
<path d="M452.7 322 C454 325.5 454.8 328.5 456.2 329.7 C458.5 330.5 460.5 331 461.5 332 C463.2 334 463.9 336.5 463.9 339.2 C464.3 342.5 464.6 345.5 464.5 348.7 C463.8 351 462.5 352.8 461 353.4 C459.5 354.2 458 354.6 456.8 354.6 C455 354.6 453.8 354.3 452.7 354" stroke="#000" stroke-width="1.2" fill="none"/>
<path d="M452.7 335 C455 335.2 457 335.5 458 336.2 C460.5 337.8 461.8 340 462 342.5 C462.2 345.5 461.5 348.5 460 350 C458.5 351.2 457 351.3 455.5 351 C454.2 350.6 453.3 349.8 452.7 349" stroke="#000" stroke-width="1.2" fill="none"/>
<ellipse cx="457.4" cy="345.4" rx="2.6" ry="3.3" fill="none" stroke="#000" stroke-width="1.1"/>
<rect x="428.4" y="311.9" width="45.6" height="60.7" fill="none" stroke="#000" stroke-width="1.3"/>
<line x1="452.7" y1="311.9" x2="452.7" y2="372.6" stroke="#000" stroke-width="1.4"/>
<text x="431.8" y="309.6" font-size="9.2" text-anchor="start" fill="#111" font-weight="bold" >88.9</text>
<text x="455.7" y="309.6" font-size="9.2" text-anchor="start" fill="#111" font-weight="bold" >10.7</text>
<line x1="300" y1="388.2" x2="515.5" y2="388.2" stroke="#000" stroke-width="1.8"/>
<text x="407.5" y="405.8" font-size="14" text-anchor="middle" fill="#000" >FoxP3</text>
<text x="-0.6" y="437.7" font-size="18.5" text-anchor="start" fill="#000" font-weight="bold" >C</text>
<text x="272.6" y="437.7" font-size="18.5" text-anchor="start" fill="#000" font-weight="bold" >D</text>
<line x1="57.8" y1="432.4" x2="251.5" y2="432.4" stroke="#555" stroke-width="1.1"/>
<line x1="251.5" y1="432.4" x2="251.5" y2="526.6" stroke="#555" stroke-width="1.1"/>
<line x1="57.8" y1="431.9" x2="57.8" y2="527.4" stroke="#444" stroke-width="1.6"/>
<line x1="55.8" y1="526.6" x2="57.8" y2="526.6" stroke="#444" stroke-width="1"/>
<text x="54.8" y="528.6" font-size="7.3" fill="#333" stroke="#333" stroke-width="0.35" text-anchor="end" transform="translate(54.8,0) scale(1.1,1) translate(-54.8,0)">0</text>
<line x1="55.8" y1="503.05" x2="57.8" y2="503.05" stroke="#444" stroke-width="1"/>
<text x="54.8" y="505.1" font-size="7.3" fill="#333" stroke="#333" stroke-width="0.35" text-anchor="end" transform="translate(54.8,0) scale(1.1,1) translate(-54.8,0)">10</text>
<line x1="55.8" y1="479.5" x2="57.8" y2="479.5" stroke="#444" stroke-width="1"/>
<text x="54.8" y="481.5" font-size="7.3" fill="#333" stroke="#333" stroke-width="0.35" text-anchor="end" transform="translate(54.8,0) scale(1.1,1) translate(-54.8,0)">20</text>
<line x1="55.8" y1="455.95" x2="57.8" y2="455.95" stroke="#444" stroke-width="1"/>
<text x="54.8" y="457.9" font-size="7.3" fill="#333" stroke="#333" stroke-width="0.35" text-anchor="end" transform="translate(54.8,0) scale(1.1,1) translate(-54.8,0)">30</text>
<line x1="55.8" y1="432.4" x2="57.8" y2="432.4" stroke="#444" stroke-width="1"/>
<text x="54.8" y="434.4" font-size="7.3" fill="#333" stroke="#333" stroke-width="0.35" text-anchor="end" transform="translate(54.8,0) scale(1.1,1) translate(-54.8,0)">40</text>
<line x1="74.3" y1="436.63899999999995" x2="74.3" y2="457.363" stroke="#000" stroke-width="1.2"/>
<line x1="71.7" y1="436.63899999999995" x2="76.89999999999999" y2="436.63899999999995" stroke="#000" stroke-width="1.5"/>
<rect x="67.7" y="457.363" width="13.2" height="69.23700000000002" fill="#000" stroke="none" stroke-width="1"/>
<line x1="106.5" y1="488.92" x2="106.5" y2="498.10450000000003" stroke="#000" stroke-width="1.2"/>
<line x1="103.9" y1="488.92" x2="109.1" y2="488.92" stroke="#000" stroke-width="1.5"/>
<rect x="99.9" y="498.10450000000003" width="13.2" height="28.495499999999993" fill="#000" stroke="none" stroke-width="1"/>
<line x1="138.6" y1="504.934" x2="138.6" y2="509.644" stroke="#000" stroke-width="1.2"/>
<line x1="136.0" y1="504.934" x2="141.2" y2="504.934" stroke="#000" stroke-width="1.5"/>
<rect x="132.0" y="509.644" width="13.2" height="16.956000000000017" fill="#000" stroke="none" stroke-width="1"/>
<line x1="171" y1="512.7055" x2="171" y2="516.238" stroke="#000" stroke-width="1.2"/>
<line x1="168.4" y1="512.7055" x2="173.6" y2="512.7055" stroke="#000" stroke-width="1.5"/>
<rect x="164.4" y="516.238" width="13.2" height="10.361999999999966" fill="#000" stroke="none" stroke-width="1"/>
<line x1="203" y1="522.1255" x2="203" y2="524.0095" stroke="#000" stroke-width="1.2"/>
<line x1="200.4" y1="522.1255" x2="205.6" y2="522.1255" stroke="#000" stroke-width="1.5"/>
<rect x="196.4" y="524.0095" width="13.2" height="2.59050000000002" fill="#000" stroke="none" stroke-width="1"/>
<line x1="235.2" y1="524.9515" x2="235.2" y2="525.4225" stroke="#000" stroke-width="1.2"/>
<line x1="232.6" y1="524.9515" x2="237.79999999999998" y2="524.9515" stroke="#000" stroke-width="1.5"/>
<rect x="228.6" y="525.4225" width="13.2" height="1.177500000000009" fill="#000" stroke="none" stroke-width="1"/>
<line x1="57.0" y1="526.6" x2="252.0" y2="526.6" stroke="#222" stroke-width="1.5"/>
<line x1="90.4" y1="526.6" x2="90.4" y2="528.4" stroke="#444" stroke-width="0.8"/>
<line x1="122.55" y1="526.6" x2="122.55" y2="528.4" stroke="#444" stroke-width="0.8"/>
<line x1="154.8" y1="526.6" x2="154.8" y2="528.4" stroke="#444" stroke-width="0.8"/>
<line x1="187.0" y1="526.6" x2="187.0" y2="528.4" stroke="#444" stroke-width="0.8"/>
<line x1="219.1" y1="526.6" x2="219.1" y2="528.4" stroke="#444" stroke-width="0.8"/>
<line x1="326.6" y1="432.4" x2="518.6" y2="432.4" stroke="#555" stroke-width="1.1"/>
<line x1="518.6" y1="432.4" x2="518.6" y2="526.6" stroke="#555" stroke-width="1.1"/>
<line x1="326.6" y1="431.9" x2="326.6" y2="527.4" stroke="#444" stroke-width="1.6"/>
<line x1="324.6" y1="526.6" x2="326.6" y2="526.6" stroke="#444" stroke-width="1"/>
<text x="321.0" y="528.6" font-size="7.3" fill="#333" stroke="#333" stroke-width="0.35" text-anchor="end" transform="translate(321.0,0) scale(1.1,1) translate(-321.0,0)">0</text>
<line x1="324.6" y1="495.2" x2="326.6" y2="495.2" stroke="#444" stroke-width="1"/>
<text x="321.0" y="497.2" font-size="7.3" fill="#333" stroke="#333" stroke-width="0.35" text-anchor="end" transform="translate(321.0,0) scale(1.1,1) translate(-321.0,0)">10</text>
<line x1="324.6" y1="463.8" x2="326.6" y2="463.8" stroke="#444" stroke-width="1"/>
<text x="321.0" y="465.8" font-size="7.3" fill="#333" stroke="#333" stroke-width="0.35" text-anchor="end" transform="translate(321.0,0) scale(1.1,1) translate(-321.0,0)">20</text>
<line x1="324.6" y1="432.4" x2="326.6" y2="432.4" stroke="#444" stroke-width="1"/>
<text x="321.0" y="434.4" font-size="7.3" fill="#333" stroke="#333" stroke-width="0.35" text-anchor="end" transform="translate(321.0,0) scale(1.1,1) translate(-321.0,0)">30</text>
<line x1="343" y1="462.544" x2="343" y2="472.906" stroke="#000" stroke-width="1.2"/>
<line x1="340.4" y1="462.544" x2="345.6" y2="462.544" stroke="#000" stroke-width="1.5"/>
<rect x="336.4" y="472.906" width="13.2" height="53.69400000000002" fill="#000" stroke="none" stroke-width="1"/>
<line x1="375.1" y1="484.21" x2="375.1" y2="488.606" stroke="#000" stroke-width="1.2"/>
<line x1="372.5" y1="484.21" x2="377.70000000000005" y2="484.21" stroke="#000" stroke-width="1.5"/>
<rect x="368.5" y="488.606" width="13.2" height="37.99400000000003" fill="#000" stroke="none" stroke-width="1"/>
<line x1="407.1" y1="505.248" x2="407.1" y2="509.644" stroke="#000" stroke-width="1.2"/>
<line x1="404.5" y1="505.248" x2="409.70000000000005" y2="505.248" stroke="#000" stroke-width="1.5"/>
<rect x="400.5" y="509.644" width="13.2" height="16.956000000000017" fill="#000" stroke="none" stroke-width="1"/>
<line x1="439.1" y1="522.989" x2="439.1" y2="523.931" stroke="#000" stroke-width="1.2"/>
<line x1="436.5" y1="522.989" x2="441.70000000000005" y2="522.989" stroke="#000" stroke-width="1.5"/>
<rect x="432.5" y="523.931" width="13.2" height="2.6689999999999827" fill="#000" stroke="none" stroke-width="1"/>
<line x1="471.2" y1="525.972" x2="471.2" y2="526.129" stroke="#000" stroke-width="1.2"/>
<line x1="468.59999999999997" y1="525.972" x2="473.8" y2="525.972" stroke="#000" stroke-width="1.5"/>
<rect x="464.59999999999997" y="526.129" width="13.2" height="0.47100000000000364" fill="#000" stroke="none" stroke-width="1"/>
<line x1="503.3" y1="522.361" x2="503.3" y2="523.1460000000001" stroke="#000" stroke-width="1.2"/>
<line x1="500.7" y1="522.361" x2="505.90000000000003" y2="522.361" stroke="#000" stroke-width="1.5"/>
<rect x="496.7" y="523.1460000000001" width="13.2" height="3.453999999999951" fill="#000" stroke="none" stroke-width="1"/>
<line x1="325.8" y1="526.6" x2="519.1" y2="526.6" stroke="#222" stroke-width="1.5"/>
<line x1="359.05" y1="526.6" x2="359.05" y2="528.4" stroke="#444" stroke-width="0.8"/>
<line x1="391.1" y1="526.6" x2="391.1" y2="528.4" stroke="#444" stroke-width="0.8"/>
<line x1="423.1" y1="526.6" x2="423.1" y2="528.4" stroke="#444" stroke-width="0.8"/>
<line x1="455.15" y1="526.6" x2="455.15" y2="528.4" stroke="#444" stroke-width="0.8"/>
<line x1="487.25" y1="526.6" x2="487.25" y2="528.4" stroke="#444" stroke-width="0.8"/>
<text transform="translate(40.8,478.0) rotate(-90)" font-size="9.2" text-anchor="middle" fill="#222">Simulation Index</text>
<text x="6.3" y="538" font-size="7.25" text-anchor="start" fill="#222" >Responder T cells:</text>
<text x="6.3" y="545.8" font-size="7.25" text-anchor="start" fill="#222" >Allogeneic PBMC:</text>
<text x="6.3" y="554" font-size="7.25" text-anchor="start" fill="#222" >Treg:</text>
<text x="74.3" y="537.7" font-size="6.2" text-anchor="middle" fill="#222" font-weight="bold" >+</text>
<text x="106.5" y="537.7" font-size="6.2" text-anchor="middle" fill="#222" font-weight="bold" >+</text>
<text x="138.6" y="537.7" font-size="6.2" text-anchor="middle" fill="#222" font-weight="bold" >+</text>
<text x="171" y="537.7" font-size="6.2" text-anchor="middle" fill="#222" font-weight="bold" >+</text>
<text x="203" y="538" font-size="7" text-anchor="middle" fill="#222" >-</text>
<text x="235.2" y="538" font-size="7" text-anchor="middle" fill="#222" >-</text>
<text x="74.3" y="545.5" font-size="6.2" text-anchor="middle" fill="#222" font-weight="bold" >+</text>
<text x="106.5" y="545.5" font-size="6.2" text-anchor="middle" fill="#222" font-weight="bold" >+</text>
<text x="138.6" y="545.5" font-size="6.2" text-anchor="middle" fill="#222" font-weight="bold" >+</text>
<text x="171" y="545.5" font-size="6.2" text-anchor="middle" fill="#222" font-weight="bold" >+</text>
<text x="203" y="545.8" font-size="7" text-anchor="middle" fill="#222" >-</text>
<text x="235.2" y="545.5" font-size="6.2" text-anchor="middle" fill="#222" font-weight="bold" >+</text>
<text x="74.3" y="554" font-size="7" text-anchor="middle" fill="#222" >-</text>
<text x="106.5" y="554" font-size="7" text-anchor="middle" fill="#222" >4:1</text>
<text x="138.6" y="554" font-size="7" text-anchor="middle" fill="#222" >2:1</text>
<text x="171" y="554" font-size="7" text-anchor="middle" fill="#222" >1:1</text>
<text x="203" y="553.7" font-size="6.2" text-anchor="middle" fill="#222" font-weight="bold" >+</text>
<text x="235.2" y="554" font-size="7" text-anchor="middle" fill="#222" >-</text>
<text x="275.6" y="538" font-size="7.25" text-anchor="start" fill="#222" >Responder T cells:</text>
<text x="275.6" y="545.8" font-size="7.25" text-anchor="start" fill="#222" >Allogeneic PBMC:</text>
<text x="275.6" y="554" font-size="7.25" text-anchor="start" fill="#222" >Treg:</text>
<text x="343" y="537.7" font-size="6.2" text-anchor="middle" fill="#222" font-weight="bold" >+</text>
<text x="375.1" y="537.7" font-size="6.2" text-anchor="middle" fill="#222" font-weight="bold" >+</text>
<text x="407.1" y="537.7" font-size="6.2" text-anchor="middle" fill="#222" font-weight="bold" >+</text>
<text x="439.1" y="537.7" font-size="6.2" text-anchor="middle" fill="#222" font-weight="bold" >+</text>
<text x="471.2" y="538" font-size="7" text-anchor="middle" fill="#222" >-</text>
<text x="503.3" y="538" font-size="7" text-anchor="middle" fill="#222" >-</text>
<text x="343" y="545.5" font-size="6.2" text-anchor="middle" fill="#222" font-weight="bold" >+</text>
<text x="375.1" y="545.5" font-size="6.2" text-anchor="middle" fill="#222" font-weight="bold" >+</text>
<text x="407.1" y="545.5" font-size="6.2" text-anchor="middle" fill="#222" font-weight="bold" >+</text>
<text x="439.1" y="545.5" font-size="6.2" text-anchor="middle" fill="#222" font-weight="bold" >+</text>
<text x="471.2" y="545.8" font-size="7" text-anchor="middle" fill="#222" >-</text>
<text x="503.3" y="545.5" font-size="6.2" text-anchor="middle" fill="#222" font-weight="bold" >+</text>
<text x="343" y="554" font-size="7" text-anchor="middle" fill="#222" >-</text>
<text x="375.1" y="554" font-size="7" text-anchor="middle" fill="#222" >4:1</text>
<text x="407.1" y="554" font-size="7" text-anchor="middle" fill="#222" >2:1</text>
<text x="439.1" y="554" font-size="7" text-anchor="middle" fill="#222" >1:1</text>
<text x="471.2" y="553.7" font-size="6.2" text-anchor="middle" fill="#222" font-weight="bold" >+</text>
<text x="503.3" y="554" font-size="7" text-anchor="middle" fill="#222" >-</text>
</g></svg>
</body></html>
